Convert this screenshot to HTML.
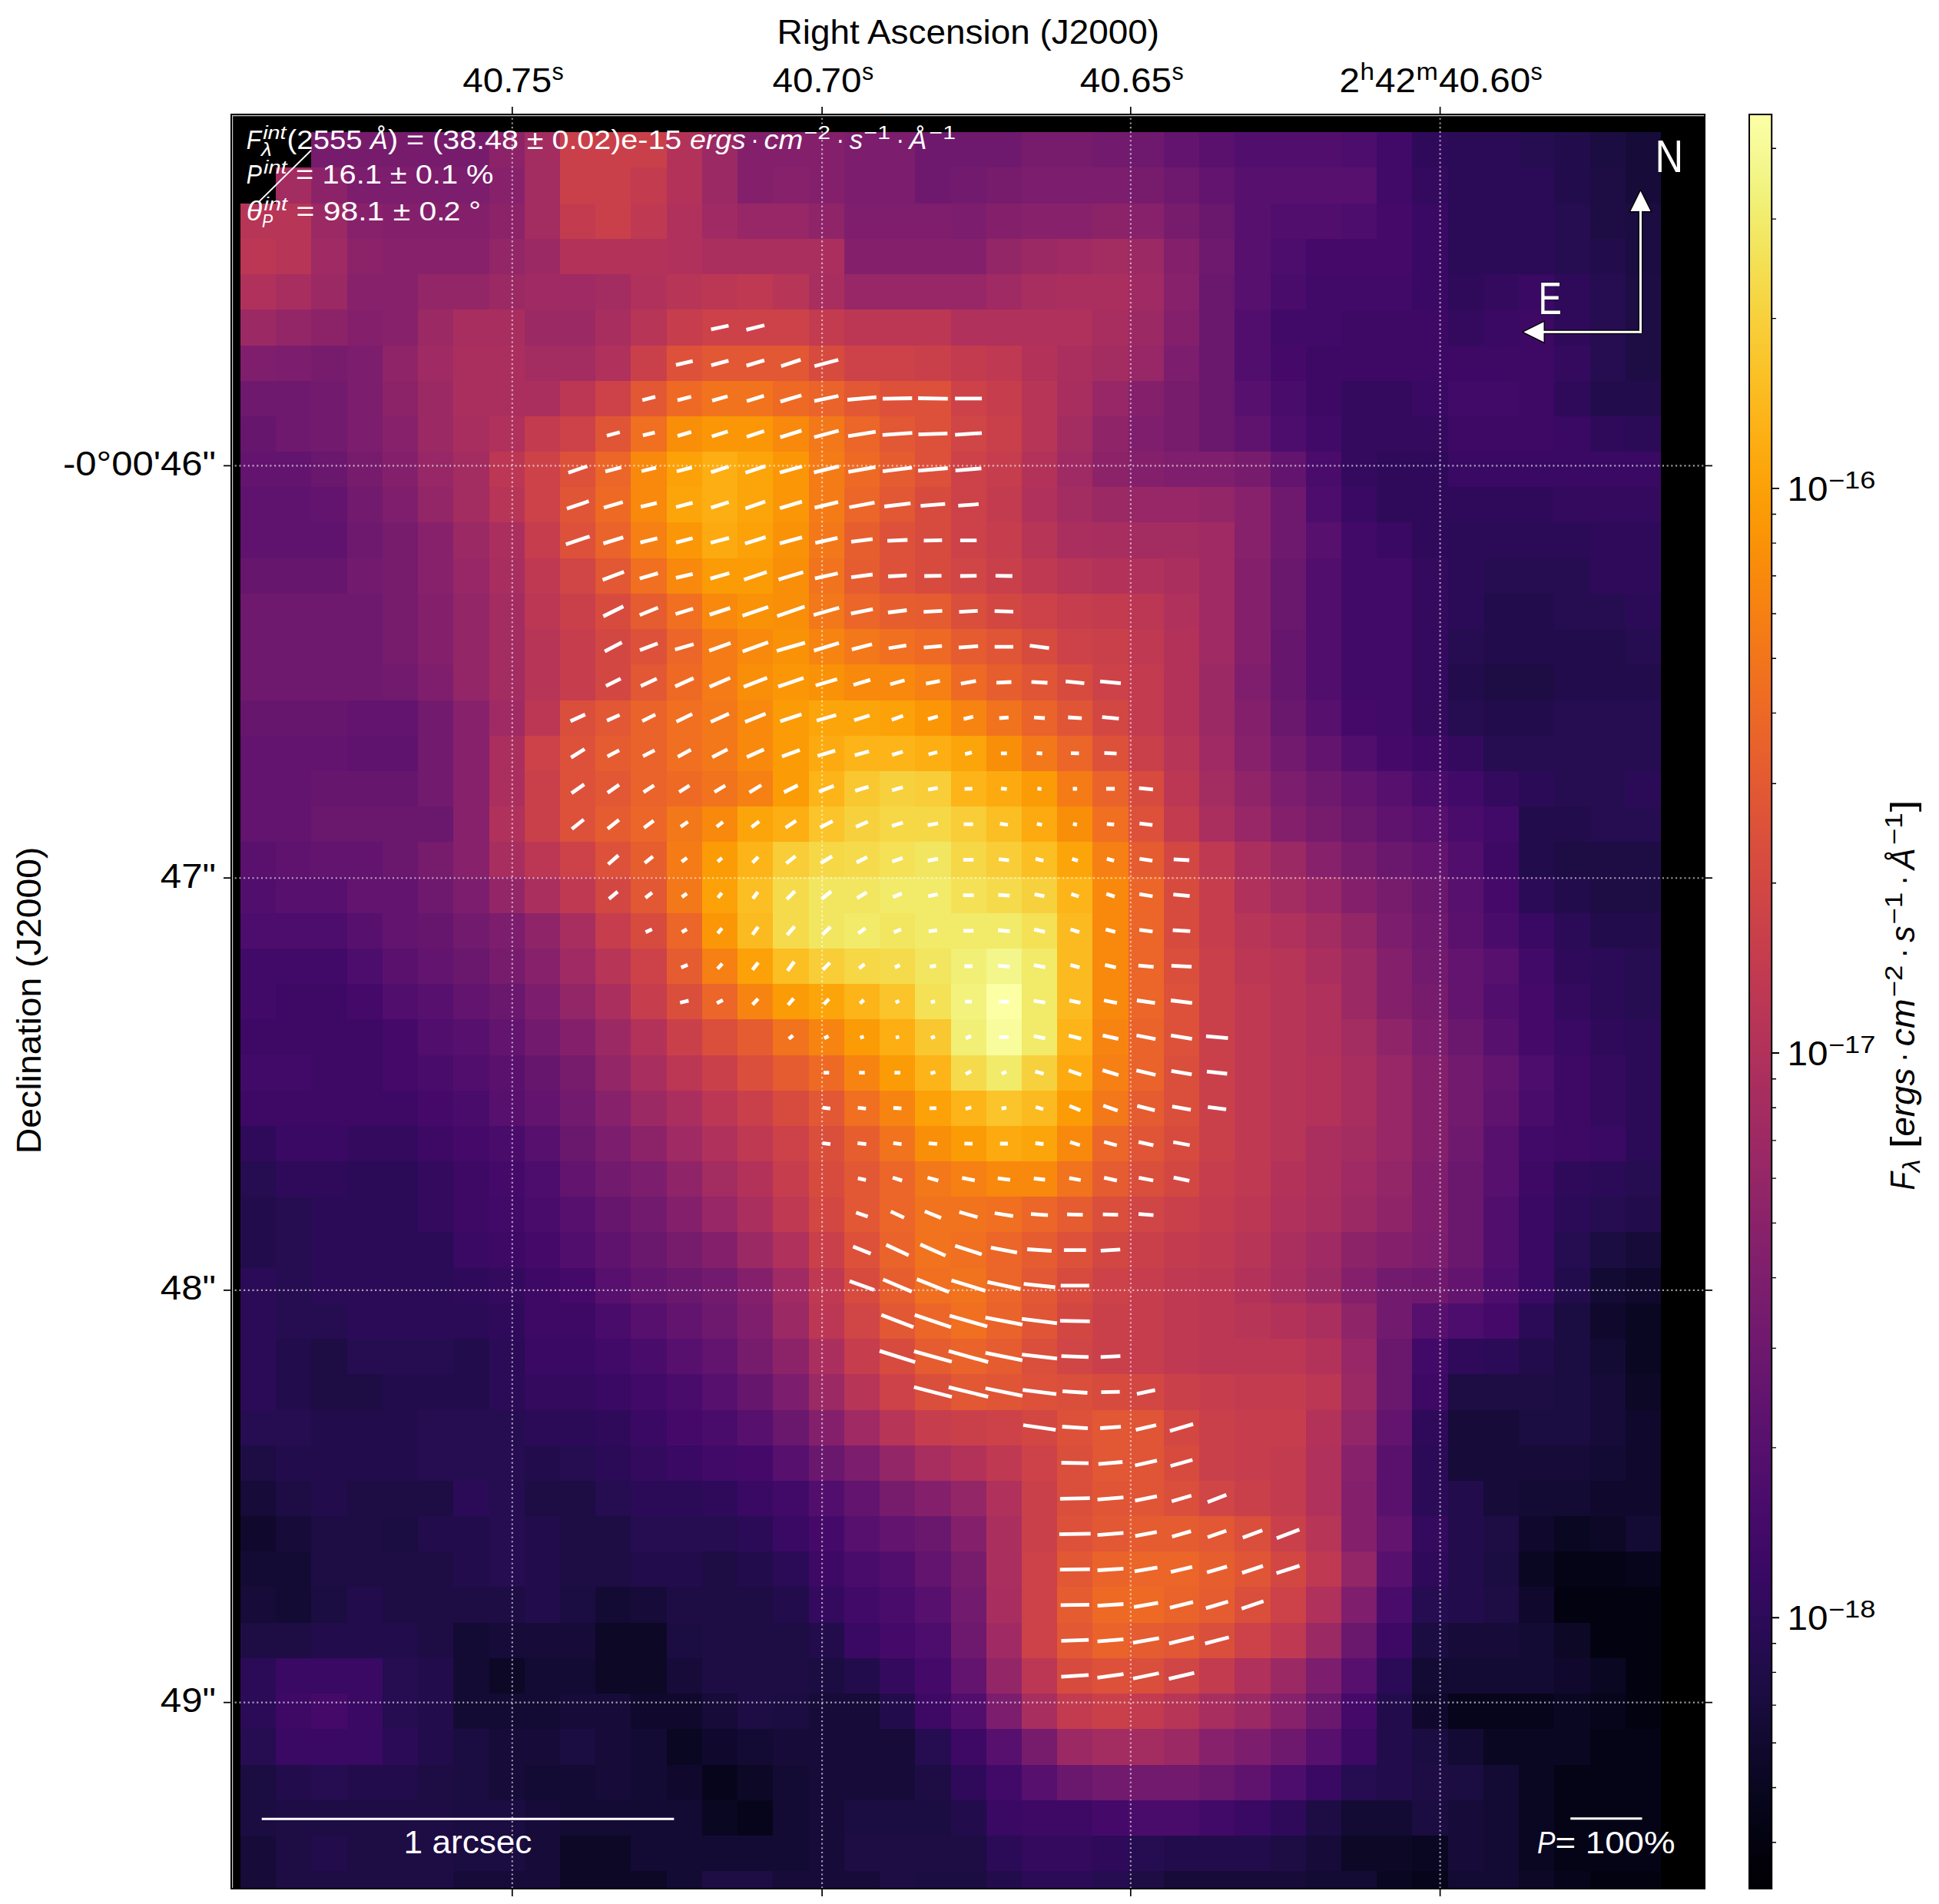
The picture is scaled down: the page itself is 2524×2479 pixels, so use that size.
<!DOCTYPE html><html><head><meta charset="utf-8"><title>Polarization map</title><style>html,body{margin:0;padding:0;background:#fff}svg{display:block}svg text{font-family:"Liberation Sans",sans-serif}</style></head><body><svg width="2524" height="2479" viewBox="0 0 2524 2479" font-family="Liberation Sans, sans-serif">
<defs><linearGradient id="cb" x1="0" y1="0" x2="0" y2="1"><stop offset="0.0000" stop-color="#fcffa4"/><stop offset="0.0156" stop-color="#f8fb9a"/><stop offset="0.0312" stop-color="#f3f68a"/><stop offset="0.0469" stop-color="#f1f179"/><stop offset="0.0625" stop-color="#f2ea69"/><stop offset="0.0781" stop-color="#f3e35a"/><stop offset="0.0938" stop-color="#f5db4c"/><stop offset="0.1094" stop-color="#f7d340"/><stop offset="0.1250" stop-color="#f9cb35"/><stop offset="0.1406" stop-color="#fac42a"/><stop offset="0.1562" stop-color="#fbbc21"/><stop offset="0.1719" stop-color="#fcb418"/><stop offset="0.1875" stop-color="#fcac11"/><stop offset="0.2031" stop-color="#fca50a"/><stop offset="0.2188" stop-color="#fb9d07"/><stop offset="0.2344" stop-color="#fb9606"/><stop offset="0.2500" stop-color="#f98e09"/><stop offset="0.2656" stop-color="#f8870e"/><stop offset="0.2812" stop-color="#f68013"/><stop offset="0.2969" stop-color="#f47918"/><stop offset="0.3125" stop-color="#f1731d"/><stop offset="0.3281" stop-color="#ef6c23"/><stop offset="0.3438" stop-color="#eb6628"/><stop offset="0.3594" stop-color="#e8602d"/><stop offset="0.3750" stop-color="#e45a31"/><stop offset="0.3906" stop-color="#e05536"/><stop offset="0.4062" stop-color="#db503b"/><stop offset="0.4219" stop-color="#d74b3f"/><stop offset="0.4375" stop-color="#d24644"/><stop offset="0.4531" stop-color="#cc4248"/><stop offset="0.4688" stop-color="#c73e4c"/><stop offset="0.4844" stop-color="#c13a50"/><stop offset="0.5000" stop-color="#bc3754"/><stop offset="0.5156" stop-color="#b63458"/><stop offset="0.5312" stop-color="#b0315b"/><stop offset="0.5469" stop-color="#a92e5e"/><stop offset="0.5625" stop-color="#a32c61"/><stop offset="0.5781" stop-color="#9d2964"/><stop offset="0.5938" stop-color="#972766"/><stop offset="0.6094" stop-color="#902568"/><stop offset="0.6250" stop-color="#8a226a"/><stop offset="0.6406" stop-color="#84206b"/><stop offset="0.6562" stop-color="#7d1e6d"/><stop offset="0.6719" stop-color="#771c6d"/><stop offset="0.6875" stop-color="#71196e"/><stop offset="0.7031" stop-color="#6a176e"/><stop offset="0.7188" stop-color="#64156e"/><stop offset="0.7344" stop-color="#5d126e"/><stop offset="0.7500" stop-color="#57106e"/><stop offset="0.7656" stop-color="#510e6c"/><stop offset="0.7812" stop-color="#4a0c6b"/><stop offset="0.7969" stop-color="#440a68"/><stop offset="0.8125" stop-color="#3d0965"/><stop offset="0.8281" stop-color="#360961"/><stop offset="0.8438" stop-color="#2f0a5b"/><stop offset="0.8594" stop-color="#280b53"/><stop offset="0.8750" stop-color="#210c4a"/><stop offset="0.8906" stop-color="#1b0c41"/><stop offset="0.9062" stop-color="#150b37"/><stop offset="0.9219" stop-color="#10092d"/><stop offset="0.9375" stop-color="#0b0724"/><stop offset="0.9531" stop-color="#07051b"/><stop offset="0.9688" stop-color="#040312"/><stop offset="0.9844" stop-color="#02010a"/><stop offset="1.0000" stop-color="#000004"/></linearGradient><clipPath id="axc"><rect x="300" y="148" width="1920" height="2312"/></clipPath></defs>
<rect width="2524" height="2479" fill="#fff"/>
<rect x="300" y="148" width="1920" height="2312" fill="#000"/>
<g shape-rendering="crispEdges" clip-path="url(#axc)"><rect x="405" y="172" width="232" height="46" fill="#771c6d"/><rect x="637" y="172" width="46" height="46" fill="#8c2369"/><rect x="683" y="172" width="46" height="46" fill="#a32c61"/><rect x="729" y="172" width="139" height="46" fill="#ca404a"/><rect x="868" y="172" width="46" height="46" fill="#b3325a"/><rect x="914" y="172" width="46" height="46" fill="#9b2964"/><rect x="960" y="172" width="139" height="46" fill="#84206b"/><rect x="1099" y="172" width="92" height="46" fill="#7c1d6d"/><rect x="1191" y="172" width="139" height="46" fill="#6f196e"/><rect x="1330" y="172" width="92" height="46" fill="#771c6d"/><rect x="1422" y="172" width="47" height="46" fill="#721a6e"/><rect x="1469" y="172" width="46" height="46" fill="#6f196e"/><rect x="1515" y="172" width="46" height="46" fill="#62146e"/><rect x="1561" y="172" width="46" height="46" fill="#5a116e"/><rect x="1607" y="172" width="139" height="46" fill="#520e6d"/><rect x="1746" y="172" width="46" height="46" fill="#4d0d6c"/><rect x="1792" y="172" width="46" height="46" fill="#420a68"/><rect x="1838" y="172" width="47" height="46" fill="#2f0a5b"/><rect x="1885" y="172" width="92" height="46" fill="#2b0b57"/><rect x="1977" y="172" width="46" height="46" fill="#260c51"/><rect x="2023" y="172" width="47" height="46" fill="#230c4c"/><rect x="2070" y="172" width="46" height="46" fill="#1b0c41"/><rect x="2116" y="172" width="46" height="46" fill="#160b39"/><rect x="359" y="218" width="46" height="47" fill="#a32c61"/><rect x="405" y="218" width="47" height="47" fill="#8c2369"/><rect x="452" y="218" width="185" height="47" fill="#7c1d6d"/><rect x="637" y="218" width="46" height="47" fill="#87216b"/><rect x="683" y="218" width="46" height="47" fill="#a32c61"/><rect x="729" y="218" width="92" height="47" fill="#ca404a"/><rect x="821" y="218" width="47" height="47" fill="#c33b4f"/><rect x="868" y="218" width="46" height="47" fill="#b3325a"/><rect x="914" y="218" width="46" height="47" fill="#9b2964"/><rect x="960" y="218" width="46" height="47" fill="#84206b"/><rect x="1006" y="218" width="47" height="47" fill="#87216b"/><rect x="1053" y="218" width="46" height="47" fill="#84206b"/><rect x="1099" y="218" width="92" height="47" fill="#7c1d6d"/><rect x="1191" y="218" width="47" height="47" fill="#6f196e"/><rect x="1238" y="218" width="46" height="47" fill="#721a6e"/><rect x="1284" y="218" width="46" height="47" fill="#771c6d"/><rect x="1330" y="218" width="139" height="47" fill="#7c1d6d"/><rect x="1469" y="218" width="46" height="47" fill="#771c6d"/><rect x="1515" y="218" width="46" height="47" fill="#6f196e"/><rect x="1561" y="218" width="46" height="47" fill="#62146e"/><rect x="1607" y="218" width="185" height="47" fill="#57106e"/><rect x="1792" y="218" width="46" height="47" fill="#420a68"/><rect x="1838" y="218" width="47" height="47" fill="#340a5f"/><rect x="1885" y="218" width="138" height="47" fill="#2b0b57"/><rect x="2023" y="218" width="47" height="47" fill="#230c4c"/><rect x="2070" y="218" width="46" height="47" fill="#1e0c45"/><rect x="2116" y="218" width="46" height="47" fill="#160b39"/><rect x="313" y="265" width="92" height="46" fill="#b73557"/><rect x="405" y="265" width="47" height="46" fill="#9b2964"/><rect x="452" y="265" width="46" height="46" fill="#87216b"/><rect x="498" y="265" width="139" height="46" fill="#84206b"/><rect x="637" y="265" width="46" height="46" fill="#8c2369"/><rect x="683" y="265" width="46" height="46" fill="#a32c61"/><rect x="729" y="265" width="46" height="46" fill="#c33b4f"/><rect x="775" y="265" width="46" height="46" fill="#ca404a"/><rect x="821" y="265" width="47" height="46" fill="#bf3952"/><rect x="868" y="265" width="46" height="46" fill="#b0315b"/><rect x="914" y="265" width="46" height="46" fill="#a02a63"/><rect x="960" y="265" width="93" height="46" fill="#972766"/><rect x="1053" y="265" width="46" height="46" fill="#8f2469"/><rect x="1099" y="265" width="139" height="46" fill="#7f1e6c"/><rect x="1238" y="265" width="46" height="46" fill="#7c1d6d"/><rect x="1284" y="265" width="46" height="46" fill="#84206b"/><rect x="1330" y="265" width="92" height="46" fill="#87216b"/><rect x="1422" y="265" width="47" height="46" fill="#8c2369"/><rect x="1469" y="265" width="46" height="46" fill="#87216b"/><rect x="1515" y="265" width="46" height="46" fill="#771c6d"/><rect x="1561" y="265" width="46" height="46" fill="#6a176e"/><rect x="1607" y="265" width="47" height="46" fill="#57106e"/><rect x="1654" y="265" width="92" height="46" fill="#520e6d"/><rect x="1746" y="265" width="46" height="46" fill="#4d0d6c"/><rect x="1792" y="265" width="46" height="46" fill="#450a69"/><rect x="1838" y="265" width="47" height="46" fill="#390963"/><rect x="1885" y="265" width="138" height="46" fill="#2b0b57"/><rect x="2023" y="265" width="47" height="46" fill="#260c51"/><rect x="2070" y="265" width="46" height="46" fill="#1e0c45"/><rect x="2116" y="265" width="46" height="46" fill="#1b0c41"/><rect x="313" y="311" width="46" height="46" fill="#bc3754"/><rect x="359" y="311" width="46" height="46" fill="#b73557"/><rect x="405" y="311" width="47" height="46" fill="#a02a63"/><rect x="452" y="311" width="46" height="46" fill="#8c2369"/><rect x="498" y="311" width="139" height="46" fill="#87216b"/><rect x="637" y="311" width="46" height="46" fill="#932667"/><rect x="683" y="311" width="46" height="46" fill="#9b2964"/><rect x="729" y="311" width="139" height="46" fill="#b3325a"/><rect x="868" y="311" width="46" height="46" fill="#b0315b"/><rect x="914" y="311" width="185" height="46" fill="#ab2f5e"/><rect x="1099" y="311" width="185" height="46" fill="#84206b"/><rect x="1284" y="311" width="46" height="46" fill="#932667"/><rect x="1330" y="311" width="46" height="46" fill="#9b2964"/><rect x="1376" y="311" width="46" height="46" fill="#a02a63"/><rect x="1422" y="311" width="47" height="46" fill="#a32c61"/><rect x="1469" y="311" width="46" height="46" fill="#9b2964"/><rect x="1515" y="311" width="46" height="46" fill="#84206b"/><rect x="1561" y="311" width="46" height="46" fill="#6f196e"/><rect x="1607" y="311" width="47" height="46" fill="#57106e"/><rect x="1654" y="311" width="46" height="46" fill="#4d0d6c"/><rect x="1700" y="311" width="138" height="46" fill="#450a69"/><rect x="1838" y="311" width="47" height="46" fill="#390963"/><rect x="1885" y="311" width="138" height="46" fill="#2b0b57"/><rect x="2023" y="311" width="47" height="46" fill="#260c51"/><rect x="2070" y="311" width="46" height="46" fill="#230c4c"/><rect x="2116" y="311" width="46" height="46" fill="#1b0c41"/><rect x="313" y="357" width="46" height="46" fill="#b0315b"/><rect x="359" y="357" width="46" height="46" fill="#a82e5f"/><rect x="405" y="357" width="47" height="46" fill="#9b2964"/><rect x="452" y="357" width="92" height="46" fill="#87216b"/><rect x="544" y="357" width="93" height="46" fill="#932667"/><rect x="637" y="357" width="46" height="46" fill="#9b2964"/><rect x="683" y="357" width="92" height="46" fill="#a02a63"/><rect x="775" y="357" width="46" height="46" fill="#a32c61"/><rect x="821" y="357" width="47" height="46" fill="#b0315b"/><rect x="868" y="357" width="46" height="46" fill="#b73557"/><rect x="914" y="357" width="46" height="46" fill="#bc3754"/><rect x="960" y="357" width="46" height="46" fill="#bf3952"/><rect x="1006" y="357" width="47" height="46" fill="#b73557"/><rect x="1053" y="357" width="46" height="46" fill="#a82e5f"/><rect x="1099" y="357" width="185" height="46" fill="#972766"/><rect x="1284" y="357" width="46" height="46" fill="#a02a63"/><rect x="1330" y="357" width="46" height="46" fill="#a82e5f"/><rect x="1376" y="357" width="93" height="46" fill="#ab2f5e"/><rect x="1469" y="357" width="46" height="46" fill="#a02a63"/><rect x="1515" y="357" width="46" height="46" fill="#87216b"/><rect x="1561" y="357" width="46" height="46" fill="#6a176e"/><rect x="1607" y="357" width="47" height="46" fill="#57106e"/><rect x="1654" y="357" width="46" height="46" fill="#4a0c6b"/><rect x="1700" y="357" width="138" height="46" fill="#420a68"/><rect x="1838" y="357" width="47" height="46" fill="#390963"/><rect x="1885" y="357" width="46" height="46" fill="#2f0a5b"/><rect x="1931" y="357" width="46" height="46" fill="#340a5f"/><rect x="1977" y="357" width="46" height="46" fill="#390963"/><rect x="2023" y="357" width="47" height="46" fill="#2f0a5b"/><rect x="2070" y="357" width="46" height="46" fill="#260c51"/><rect x="2116" y="357" width="46" height="46" fill="#1e0c45"/><rect x="313" y="403" width="46" height="47" fill="#9b2964"/><rect x="359" y="403" width="46" height="47" fill="#932667"/><rect x="405" y="403" width="47" height="47" fill="#8c2369"/><rect x="452" y="403" width="46" height="47" fill="#84206b"/><rect x="498" y="403" width="46" height="47" fill="#87216b"/><rect x="544" y="403" width="46" height="47" fill="#9b2964"/><rect x="590" y="403" width="93" height="47" fill="#a82e5f"/><rect x="683" y="403" width="92" height="47" fill="#9b2964"/><rect x="775" y="403" width="46" height="47" fill="#a82e5f"/><rect x="821" y="403" width="47" height="47" fill="#b73557"/><rect x="868" y="403" width="46" height="47" fill="#c63d4d"/><rect x="914" y="403" width="139" height="47" fill="#cc4248"/><rect x="1053" y="403" width="46" height="47" fill="#c33b4f"/><rect x="1099" y="403" width="139" height="47" fill="#bc3754"/><rect x="1238" y="403" width="184" height="47" fill="#b0315b"/><rect x="1422" y="403" width="47" height="47" fill="#a82e5f"/><rect x="1469" y="403" width="46" height="47" fill="#9b2964"/><rect x="1515" y="403" width="46" height="47" fill="#84206b"/><rect x="1561" y="403" width="46" height="47" fill="#6a176e"/><rect x="1607" y="403" width="47" height="47" fill="#520e6d"/><rect x="1654" y="403" width="92" height="47" fill="#420a68"/><rect x="1746" y="403" width="139" height="47" fill="#3d0965"/><rect x="1885" y="403" width="46" height="47" fill="#340a5f"/><rect x="1931" y="403" width="46" height="47" fill="#390963"/><rect x="1977" y="403" width="46" height="47" fill="#3d0965"/><rect x="2023" y="403" width="47" height="47" fill="#2f0a5b"/><rect x="2070" y="403" width="46" height="47" fill="#260c51"/><rect x="2116" y="403" width="46" height="47" fill="#1e0c45"/><rect x="313" y="450" width="46" height="46" fill="#7f1e6c"/><rect x="359" y="450" width="46" height="46" fill="#7c1d6d"/><rect x="405" y="450" width="47" height="46" fill="#771c6d"/><rect x="452" y="450" width="46" height="46" fill="#7c1d6d"/><rect x="498" y="450" width="46" height="46" fill="#8f2469"/><rect x="544" y="450" width="46" height="46" fill="#a02a63"/><rect x="590" y="450" width="93" height="46" fill="#ab2f5e"/><rect x="683" y="450" width="92" height="46" fill="#a32c61"/><rect x="775" y="450" width="46" height="46" fill="#b0315b"/><rect x="821" y="450" width="47" height="46" fill="#ca404a"/><rect x="868" y="450" width="46" height="46" fill="#dd513a"/><rect x="914" y="450" width="139" height="46" fill="#e25734"/><rect x="1053" y="450" width="46" height="46" fill="#d74b3f"/><rect x="1099" y="450" width="92" height="46" fill="#cc4248"/><rect x="1191" y="450" width="47" height="46" fill="#ca404a"/><rect x="1238" y="450" width="46" height="46" fill="#c33b4f"/><rect x="1284" y="450" width="46" height="46" fill="#bf3952"/><rect x="1330" y="450" width="46" height="46" fill="#b3325a"/><rect x="1376" y="450" width="46" height="46" fill="#ab2f5e"/><rect x="1422" y="450" width="47" height="46" fill="#a32c61"/><rect x="1469" y="450" width="46" height="46" fill="#972766"/><rect x="1515" y="450" width="46" height="46" fill="#7c1d6d"/><rect x="1561" y="450" width="46" height="46" fill="#6a176e"/><rect x="1607" y="450" width="47" height="46" fill="#520e6d"/><rect x="1654" y="450" width="46" height="46" fill="#450a69"/><rect x="1700" y="450" width="323" height="46" fill="#3d0965"/><rect x="2023" y="450" width="47" height="46" fill="#340a5f"/><rect x="2070" y="450" width="46" height="46" fill="#260c51"/><rect x="2116" y="450" width="46" height="46" fill="#1e0c45"/><rect x="313" y="496" width="92" height="46" fill="#6f196e"/><rect x="405" y="496" width="47" height="46" fill="#721a6e"/><rect x="452" y="496" width="46" height="46" fill="#7c1d6d"/><rect x="498" y="496" width="46" height="46" fill="#8c2369"/><rect x="544" y="496" width="46" height="46" fill="#9b2964"/><rect x="590" y="496" width="139" height="46" fill="#ab2f5e"/><rect x="729" y="496" width="46" height="46" fill="#bc3754"/><rect x="775" y="496" width="46" height="46" fill="#cc4248"/><rect x="821" y="496" width="47" height="46" fill="#e25734"/><rect x="868" y="496" width="46" height="46" fill="#ee6a24"/><rect x="914" y="496" width="92" height="46" fill="#f1731d"/><rect x="1006" y="496" width="47" height="46" fill="#ee6a24"/><rect x="1053" y="496" width="46" height="46" fill="#ea632a"/><rect x="1099" y="496" width="46" height="46" fill="#e25734"/><rect x="1145" y="496" width="93" height="46" fill="#dd513a"/><rect x="1238" y="496" width="46" height="46" fill="#cc4248"/><rect x="1284" y="496" width="46" height="46" fill="#c63d4d"/><rect x="1330" y="496" width="46" height="46" fill="#b73557"/><rect x="1376" y="496" width="46" height="46" fill="#a82e5f"/><rect x="1422" y="496" width="47" height="46" fill="#972766"/><rect x="1469" y="496" width="46" height="46" fill="#84206b"/><rect x="1515" y="496" width="46" height="46" fill="#771c6d"/><rect x="1561" y="496" width="46" height="46" fill="#6a176e"/><rect x="1607" y="496" width="47" height="46" fill="#57106e"/><rect x="1654" y="496" width="46" height="46" fill="#4a0c6b"/><rect x="1700" y="496" width="46" height="46" fill="#3d0965"/><rect x="1746" y="496" width="92" height="46" fill="#340a5f"/><rect x="1838" y="496" width="47" height="46" fill="#390963"/><rect x="1885" y="496" width="92" height="46" fill="#420a68"/><rect x="1977" y="496" width="46" height="46" fill="#3d0965"/><rect x="2023" y="496" width="47" height="46" fill="#2f0a5b"/><rect x="2070" y="496" width="92" height="46" fill="#230c4c"/><rect x="313" y="542" width="46" height="46" fill="#67166e"/><rect x="359" y="542" width="46" height="46" fill="#6f196e"/><rect x="405" y="542" width="47" height="46" fill="#721a6e"/><rect x="452" y="542" width="46" height="46" fill="#7c1d6d"/><rect x="498" y="542" width="46" height="46" fill="#87216b"/><rect x="544" y="542" width="46" height="46" fill="#9b2964"/><rect x="590" y="542" width="47" height="46" fill="#a82e5f"/><rect x="637" y="542" width="46" height="46" fill="#b0315b"/><rect x="683" y="542" width="46" height="46" fill="#c33b4f"/><rect x="729" y="542" width="46" height="46" fill="#cc4248"/><rect x="775" y="542" width="46" height="46" fill="#e05536"/><rect x="821" y="542" width="47" height="46" fill="#f06f20"/><rect x="868" y="542" width="46" height="46" fill="#f98e09"/><rect x="914" y="542" width="92" height="46" fill="#fb9706"/><rect x="1006" y="542" width="47" height="46" fill="#f8890c"/><rect x="1053" y="542" width="46" height="46" fill="#f37819"/><rect x="1099" y="542" width="46" height="46" fill="#eb6628"/><rect x="1145" y="542" width="46" height="46" fill="#e25734"/><rect x="1191" y="542" width="47" height="46" fill="#dd513a"/><rect x="1238" y="542" width="46" height="46" fill="#d04545"/><rect x="1284" y="542" width="46" height="46" fill="#ca404a"/><rect x="1330" y="542" width="46" height="46" fill="#b73557"/><rect x="1376" y="542" width="46" height="46" fill="#a32c61"/><rect x="1422" y="542" width="47" height="46" fill="#8f2469"/><rect x="1469" y="542" width="46" height="46" fill="#7f1e6c"/><rect x="1515" y="542" width="46" height="46" fill="#771c6d"/><rect x="1561" y="542" width="46" height="46" fill="#6a176e"/><rect x="1607" y="542" width="47" height="46" fill="#5f136e"/><rect x="1654" y="542" width="46" height="46" fill="#4d0d6c"/><rect x="1700" y="542" width="46" height="46" fill="#420a68"/><rect x="1746" y="542" width="139" height="46" fill="#340a5f"/><rect x="1885" y="542" width="138" height="46" fill="#3d0965"/><rect x="2023" y="542" width="47" height="46" fill="#390963"/><rect x="2070" y="542" width="46" height="46" fill="#2f0a5b"/><rect x="2116" y="542" width="46" height="46" fill="#2b0b57"/><rect x="313" y="588" width="92" height="46" fill="#62146e"/><rect x="405" y="588" width="47" height="46" fill="#6a176e"/><rect x="452" y="588" width="46" height="46" fill="#771c6d"/><rect x="498" y="588" width="46" height="46" fill="#84206b"/><rect x="544" y="588" width="46" height="46" fill="#972766"/><rect x="590" y="588" width="47" height="46" fill="#a32c61"/><rect x="637" y="588" width="46" height="46" fill="#bc3754"/><rect x="683" y="588" width="46" height="46" fill="#cc4248"/><rect x="729" y="588" width="46" height="46" fill="#dd513a"/><rect x="775" y="588" width="46" height="46" fill="#eb6628"/><rect x="821" y="588" width="47" height="46" fill="#f8890c"/><rect x="868" y="588" width="46" height="46" fill="#fca108"/><rect x="914" y="588" width="46" height="46" fill="#fcae12"/><rect x="960" y="588" width="46" height="46" fill="#fca50a"/><rect x="1006" y="588" width="47" height="46" fill="#fb9706"/><rect x="1053" y="588" width="46" height="46" fill="#f57b17"/><rect x="1099" y="588" width="46" height="46" fill="#ee6a24"/><rect x="1145" y="588" width="46" height="46" fill="#e55c30"/><rect x="1191" y="588" width="47" height="46" fill="#dd513a"/><rect x="1238" y="588" width="46" height="46" fill="#cc4248"/><rect x="1284" y="588" width="46" height="46" fill="#c63d4d"/><rect x="1330" y="588" width="46" height="46" fill="#b3325a"/><rect x="1376" y="588" width="46" height="46" fill="#a02a63"/><rect x="1422" y="588" width="47" height="46" fill="#8c2369"/><rect x="1469" y="588" width="46" height="46" fill="#84206b"/><rect x="1515" y="588" width="92" height="46" fill="#7f1e6c"/><rect x="1607" y="588" width="47" height="46" fill="#771c6d"/><rect x="1654" y="588" width="46" height="46" fill="#62146e"/><rect x="1700" y="588" width="46" height="46" fill="#4a0c6b"/><rect x="1746" y="588" width="46" height="46" fill="#340a5f"/><rect x="1792" y="588" width="93" height="46" fill="#2f0a5b"/><rect x="1885" y="588" width="277" height="46" fill="#390963"/><rect x="313" y="634" width="92" height="46" fill="#5f136e"/><rect x="405" y="634" width="47" height="46" fill="#62146e"/><rect x="452" y="634" width="46" height="46" fill="#721a6e"/><rect x="498" y="634" width="46" height="46" fill="#7f1e6c"/><rect x="544" y="634" width="46" height="46" fill="#932667"/><rect x="590" y="634" width="47" height="46" fill="#a32c61"/><rect x="637" y="634" width="46" height="46" fill="#b73557"/><rect x="683" y="634" width="46" height="46" fill="#cc4248"/><rect x="729" y="634" width="46" height="46" fill="#e05536"/><rect x="775" y="634" width="46" height="46" fill="#ee6a24"/><rect x="821" y="634" width="47" height="46" fill="#f8890c"/><rect x="868" y="634" width="46" height="46" fill="#fca50a"/><rect x="914" y="634" width="46" height="46" fill="#fcae12"/><rect x="960" y="634" width="46" height="46" fill="#fca50a"/><rect x="1006" y="634" width="47" height="46" fill="#fb9706"/><rect x="1053" y="634" width="46" height="46" fill="#f57b17"/><rect x="1099" y="634" width="46" height="46" fill="#eb6628"/><rect x="1145" y="634" width="46" height="46" fill="#e25734"/><rect x="1191" y="634" width="47" height="46" fill="#d74b3f"/><rect x="1238" y="634" width="46" height="46" fill="#cc4248"/><rect x="1284" y="634" width="46" height="46" fill="#c33b4f"/><rect x="1330" y="634" width="46" height="46" fill="#b0315b"/><rect x="1376" y="634" width="46" height="46" fill="#a32c61"/><rect x="1422" y="634" width="47" height="46" fill="#9b2964"/><rect x="1469" y="634" width="92" height="46" fill="#972766"/><rect x="1561" y="634" width="46" height="46" fill="#932667"/><rect x="1607" y="634" width="47" height="46" fill="#87216b"/><rect x="1654" y="634" width="46" height="46" fill="#6f196e"/><rect x="1700" y="634" width="46" height="46" fill="#4d0d6c"/><rect x="1746" y="634" width="46" height="46" fill="#390963"/><rect x="1792" y="634" width="231" height="46" fill="#2f0a5b"/><rect x="2023" y="634" width="139" height="46" fill="#340a5f"/><rect x="313" y="680" width="139" height="47" fill="#5f136e"/><rect x="452" y="680" width="46" height="47" fill="#6f196e"/><rect x="498" y="680" width="46" height="47" fill="#771c6d"/><rect x="544" y="680" width="46" height="47" fill="#87216b"/><rect x="590" y="680" width="47" height="47" fill="#9b2964"/><rect x="637" y="680" width="46" height="47" fill="#ab2f5e"/><rect x="683" y="680" width="46" height="47" fill="#c63d4d"/><rect x="729" y="680" width="46" height="47" fill="#dd513a"/><rect x="775" y="680" width="46" height="47" fill="#ea632a"/><rect x="821" y="680" width="47" height="47" fill="#f68013"/><rect x="868" y="680" width="46" height="47" fill="#fb9706"/><rect x="914" y="680" width="46" height="47" fill="#fcaa0f"/><rect x="960" y="680" width="46" height="47" fill="#fca108"/><rect x="1006" y="680" width="47" height="47" fill="#fa9207"/><rect x="1053" y="680" width="46" height="47" fill="#f37819"/><rect x="1099" y="680" width="46" height="47" fill="#e75e2e"/><rect x="1145" y="680" width="46" height="47" fill="#dd513a"/><rect x="1191" y="680" width="47" height="47" fill="#d74b3f"/><rect x="1238" y="680" width="46" height="47" fill="#cc4248"/><rect x="1284" y="680" width="46" height="47" fill="#c63d4d"/><rect x="1330" y="680" width="46" height="47" fill="#b73557"/><rect x="1376" y="680" width="46" height="47" fill="#ab2f5e"/><rect x="1422" y="680" width="47" height="47" fill="#a82e5f"/><rect x="1469" y="680" width="92" height="47" fill="#a32c61"/><rect x="1561" y="680" width="46" height="47" fill="#a02a63"/><rect x="1607" y="680" width="47" height="47" fill="#87216b"/><rect x="1654" y="680" width="46" height="47" fill="#6f196e"/><rect x="1700" y="680" width="46" height="47" fill="#57106e"/><rect x="1746" y="680" width="46" height="47" fill="#420a68"/><rect x="1792" y="680" width="46" height="47" fill="#390963"/><rect x="1838" y="680" width="47" height="47" fill="#2f0a5b"/><rect x="1885" y="680" width="185" height="47" fill="#2b0b57"/><rect x="2070" y="680" width="92" height="47" fill="#2f0a5b"/><rect x="313" y="727" width="139" height="46" fill="#67166e"/><rect x="452" y="727" width="46" height="46" fill="#721a6e"/><rect x="498" y="727" width="46" height="46" fill="#771c6d"/><rect x="544" y="727" width="46" height="46" fill="#87216b"/><rect x="590" y="727" width="47" height="46" fill="#972766"/><rect x="637" y="727" width="46" height="46" fill="#a82e5f"/><rect x="683" y="727" width="46" height="46" fill="#bf3952"/><rect x="729" y="727" width="46" height="46" fill="#d04545"/><rect x="775" y="727" width="46" height="46" fill="#e25734"/><rect x="821" y="727" width="47" height="46" fill="#f06f20"/><rect x="868" y="727" width="46" height="46" fill="#f8890c"/><rect x="914" y="727" width="92" height="46" fill="#fb9b06"/><rect x="1006" y="727" width="47" height="46" fill="#f98e09"/><rect x="1053" y="727" width="46" height="46" fill="#f1731d"/><rect x="1099" y="727" width="46" height="46" fill="#e55c30"/><rect x="1145" y="727" width="46" height="46" fill="#dd513a"/><rect x="1191" y="727" width="47" height="46" fill="#d74b3f"/><rect x="1238" y="727" width="46" height="46" fill="#d04545"/><rect x="1284" y="727" width="46" height="46" fill="#ca404a"/><rect x="1330" y="727" width="46" height="46" fill="#bf3952"/><rect x="1376" y="727" width="46" height="46" fill="#b73557"/><rect x="1422" y="727" width="47" height="46" fill="#b3325a"/><rect x="1469" y="727" width="46" height="46" fill="#b0315b"/><rect x="1515" y="727" width="46" height="46" fill="#ab2f5e"/><rect x="1561" y="727" width="46" height="46" fill="#a02a63"/><rect x="1607" y="727" width="47" height="46" fill="#84206b"/><rect x="1654" y="727" width="46" height="46" fill="#6a176e"/><rect x="1700" y="727" width="46" height="46" fill="#520e6d"/><rect x="1746" y="727" width="92" height="46" fill="#420a68"/><rect x="1838" y="727" width="47" height="46" fill="#340a5f"/><rect x="1885" y="727" width="46" height="46" fill="#2b0b57"/><rect x="1931" y="727" width="139" height="46" fill="#260c51"/><rect x="2070" y="727" width="92" height="46" fill="#2f0a5b"/><rect x="313" y="773" width="185" height="46" fill="#6f196e"/><rect x="498" y="773" width="46" height="46" fill="#771c6d"/><rect x="544" y="773" width="46" height="46" fill="#84206b"/><rect x="590" y="773" width="47" height="46" fill="#932667"/><rect x="637" y="773" width="46" height="46" fill="#a32c61"/><rect x="683" y="773" width="46" height="46" fill="#bc3754"/><rect x="729" y="773" width="46" height="46" fill="#ca404a"/><rect x="775" y="773" width="46" height="46" fill="#d74b3f"/><rect x="821" y="773" width="47" height="46" fill="#e55c30"/><rect x="868" y="773" width="46" height="46" fill="#f06f20"/><rect x="914" y="773" width="46" height="46" fill="#f8890c"/><rect x="960" y="773" width="46" height="46" fill="#fa9207"/><rect x="1006" y="773" width="47" height="46" fill="#f98e09"/><rect x="1053" y="773" width="46" height="46" fill="#f37819"/><rect x="1099" y="773" width="46" height="46" fill="#eb6628"/><rect x="1145" y="773" width="46" height="46" fill="#e75e2e"/><rect x="1191" y="773" width="47" height="46" fill="#e55c30"/><rect x="1238" y="773" width="46" height="46" fill="#da4e3c"/><rect x="1284" y="773" width="46" height="46" fill="#d34743"/><rect x="1330" y="773" width="46" height="46" fill="#cc4248"/><rect x="1376" y="773" width="46" height="46" fill="#c63d4d"/><rect x="1422" y="773" width="47" height="46" fill="#c33b4f"/><rect x="1469" y="773" width="46" height="46" fill="#bc3754"/><rect x="1515" y="773" width="46" height="46" fill="#b0315b"/><rect x="1561" y="773" width="46" height="46" fill="#a02a63"/><rect x="1607" y="773" width="47" height="46" fill="#84206b"/><rect x="1654" y="773" width="46" height="46" fill="#6a176e"/><rect x="1700" y="773" width="46" height="46" fill="#520e6d"/><rect x="1746" y="773" width="92" height="46" fill="#420a68"/><rect x="1838" y="773" width="47" height="46" fill="#340a5f"/><rect x="1885" y="773" width="46" height="46" fill="#2b0b57"/><rect x="1931" y="773" width="92" height="46" fill="#230c4c"/><rect x="2023" y="773" width="93" height="46" fill="#260c51"/><rect x="2116" y="773" width="46" height="46" fill="#2b0b57"/><rect x="313" y="819" width="185" height="46" fill="#6f196e"/><rect x="498" y="819" width="46" height="46" fill="#771c6d"/><rect x="544" y="819" width="46" height="46" fill="#84206b"/><rect x="590" y="819" width="47" height="46" fill="#932667"/><rect x="637" y="819" width="46" height="46" fill="#a32c61"/><rect x="683" y="819" width="46" height="46" fill="#b73557"/><rect x="729" y="819" width="46" height="46" fill="#c63d4d"/><rect x="775" y="819" width="46" height="46" fill="#d34743"/><rect x="821" y="819" width="47" height="46" fill="#dd513a"/><rect x="868" y="819" width="46" height="46" fill="#eb6628"/><rect x="914" y="819" width="46" height="46" fill="#f57b17"/><rect x="960" y="819" width="46" height="46" fill="#f8890c"/><rect x="1006" y="819" width="47" height="46" fill="#fa9207"/><rect x="1053" y="819" width="46" height="46" fill="#f78410"/><rect x="1099" y="819" width="46" height="46" fill="#f37819"/><rect x="1145" y="819" width="46" height="46" fill="#f06f20"/><rect x="1191" y="819" width="47" height="46" fill="#ee6a24"/><rect x="1238" y="819" width="46" height="46" fill="#e55c30"/><rect x="1284" y="819" width="46" height="46" fill="#e05536"/><rect x="1330" y="819" width="46" height="46" fill="#d74b3f"/><rect x="1376" y="819" width="46" height="46" fill="#cc4248"/><rect x="1422" y="819" width="47" height="46" fill="#ca404a"/><rect x="1469" y="819" width="46" height="46" fill="#bf3952"/><rect x="1515" y="819" width="46" height="46" fill="#b3325a"/><rect x="1561" y="819" width="46" height="46" fill="#a02a63"/><rect x="1607" y="819" width="47" height="46" fill="#84206b"/><rect x="1654" y="819" width="46" height="46" fill="#67166e"/><rect x="1700" y="819" width="46" height="46" fill="#520e6d"/><rect x="1746" y="819" width="92" height="46" fill="#420a68"/><rect x="1838" y="819" width="47" height="46" fill="#340a5f"/><rect x="1885" y="819" width="46" height="46" fill="#260c51"/><rect x="1931" y="819" width="185" height="46" fill="#230c4c"/><rect x="2116" y="819" width="46" height="46" fill="#260c51"/><rect x="313" y="865" width="185" height="47" fill="#6f196e"/><rect x="498" y="865" width="46" height="47" fill="#721a6e"/><rect x="544" y="865" width="46" height="47" fill="#7f1e6c"/><rect x="590" y="865" width="47" height="47" fill="#932667"/><rect x="637" y="865" width="46" height="47" fill="#a32c61"/><rect x="683" y="865" width="46" height="47" fill="#b73557"/><rect x="729" y="865" width="46" height="47" fill="#c63d4d"/><rect x="775" y="865" width="46" height="47" fill="#d34743"/><rect x="821" y="865" width="47" height="47" fill="#e25734"/><rect x="868" y="865" width="46" height="47" fill="#ee6a24"/><rect x="914" y="865" width="46" height="47" fill="#f57b17"/><rect x="960" y="865" width="46" height="47" fill="#f98e09"/><rect x="1006" y="865" width="47" height="47" fill="#fb9706"/><rect x="1053" y="865" width="46" height="47" fill="#fa9207"/><rect x="1099" y="865" width="92" height="47" fill="#f8890c"/><rect x="1191" y="865" width="47" height="47" fill="#f68013"/><rect x="1238" y="865" width="46" height="47" fill="#ee6a24"/><rect x="1284" y="865" width="46" height="47" fill="#e75e2e"/><rect x="1330" y="865" width="46" height="47" fill="#e05536"/><rect x="1376" y="865" width="46" height="47" fill="#d74b3f"/><rect x="1422" y="865" width="47" height="47" fill="#cc4248"/><rect x="1469" y="865" width="46" height="47" fill="#c33b4f"/><rect x="1515" y="865" width="46" height="47" fill="#b3325a"/><rect x="1561" y="865" width="46" height="47" fill="#9b2964"/><rect x="1607" y="865" width="47" height="47" fill="#7f1e6c"/><rect x="1654" y="865" width="46" height="47" fill="#67166e"/><rect x="1700" y="865" width="46" height="47" fill="#520e6d"/><rect x="1746" y="865" width="92" height="47" fill="#420a68"/><rect x="1838" y="865" width="47" height="47" fill="#340a5f"/><rect x="1885" y="865" width="46" height="47" fill="#230c4c"/><rect x="1931" y="865" width="92" height="47" fill="#1e0c45"/><rect x="2023" y="865" width="139" height="47" fill="#230c4c"/><rect x="313" y="912" width="139" height="46" fill="#67166e"/><rect x="452" y="912" width="92" height="46" fill="#62146e"/><rect x="544" y="912" width="46" height="46" fill="#721a6e"/><rect x="590" y="912" width="47" height="46" fill="#87216b"/><rect x="637" y="912" width="46" height="46" fill="#a02a63"/><rect x="683" y="912" width="46" height="46" fill="#bc3754"/><rect x="729" y="912" width="46" height="46" fill="#da4e3c"/><rect x="775" y="912" width="46" height="46" fill="#e25734"/><rect x="821" y="912" width="47" height="46" fill="#ea632a"/><rect x="868" y="912" width="46" height="46" fill="#f06f20"/><rect x="914" y="912" width="46" height="46" fill="#f37819"/><rect x="960" y="912" width="46" height="46" fill="#f8890c"/><rect x="1006" y="912" width="47" height="46" fill="#fb9b06"/><rect x="1053" y="912" width="92" height="46" fill="#fca50a"/><rect x="1145" y="912" width="46" height="46" fill="#fca108"/><rect x="1191" y="912" width="47" height="46" fill="#fb9706"/><rect x="1238" y="912" width="46" height="46" fill="#f78410"/><rect x="1284" y="912" width="46" height="46" fill="#f1731d"/><rect x="1330" y="912" width="46" height="46" fill="#ea632a"/><rect x="1376" y="912" width="46" height="46" fill="#e05536"/><rect x="1422" y="912" width="47" height="46" fill="#d34743"/><rect x="1469" y="912" width="46" height="46" fill="#c33b4f"/><rect x="1515" y="912" width="46" height="46" fill="#b3325a"/><rect x="1561" y="912" width="46" height="46" fill="#9b2964"/><rect x="1607" y="912" width="47" height="46" fill="#84206b"/><rect x="1654" y="912" width="46" height="46" fill="#6a176e"/><rect x="1700" y="912" width="46" height="46" fill="#57106e"/><rect x="1746" y="912" width="46" height="46" fill="#450a69"/><rect x="1792" y="912" width="46" height="46" fill="#420a68"/><rect x="1838" y="912" width="47" height="46" fill="#340a5f"/><rect x="1885" y="912" width="46" height="46" fill="#260c51"/><rect x="1931" y="912" width="92" height="46" fill="#230c4c"/><rect x="2023" y="912" width="139" height="46" fill="#260c51"/><rect x="313" y="958" width="139" height="46" fill="#62146e"/><rect x="452" y="958" width="92" height="46" fill="#5f136e"/><rect x="544" y="958" width="46" height="46" fill="#721a6e"/><rect x="590" y="958" width="47" height="46" fill="#87216b"/><rect x="637" y="958" width="46" height="46" fill="#ab2f5e"/><rect x="683" y="958" width="46" height="46" fill="#cc4248"/><rect x="729" y="958" width="46" height="46" fill="#dd513a"/><rect x="775" y="958" width="46" height="46" fill="#e55c30"/><rect x="821" y="958" width="47" height="46" fill="#ea632a"/><rect x="868" y="958" width="46" height="46" fill="#f06f20"/><rect x="914" y="958" width="46" height="46" fill="#f37819"/><rect x="960" y="958" width="46" height="46" fill="#f8890c"/><rect x="1006" y="958" width="47" height="46" fill="#fb9b06"/><rect x="1053" y="958" width="46" height="46" fill="#fcaa0f"/><rect x="1099" y="958" width="92" height="46" fill="#fcb418"/><rect x="1191" y="958" width="47" height="46" fill="#fcae12"/><rect x="1238" y="958" width="46" height="46" fill="#fca50a"/><rect x="1284" y="958" width="46" height="46" fill="#f98e09"/><rect x="1330" y="958" width="46" height="46" fill="#f37819"/><rect x="1376" y="958" width="46" height="46" fill="#eb6628"/><rect x="1422" y="958" width="47" height="46" fill="#dd513a"/><rect x="1469" y="958" width="46" height="46" fill="#ca404a"/><rect x="1515" y="958" width="46" height="46" fill="#b73557"/><rect x="1561" y="958" width="46" height="46" fill="#a02a63"/><rect x="1607" y="958" width="47" height="46" fill="#87216b"/><rect x="1654" y="958" width="46" height="46" fill="#721a6e"/><rect x="1700" y="958" width="46" height="46" fill="#62146e"/><rect x="1746" y="958" width="46" height="46" fill="#520e6d"/><rect x="1792" y="958" width="46" height="46" fill="#450a69"/><rect x="1838" y="958" width="47" height="46" fill="#3d0965"/><rect x="1885" y="958" width="46" height="46" fill="#340a5f"/><rect x="1931" y="958" width="231" height="46" fill="#260c51"/><rect x="313" y="1004" width="92" height="46" fill="#62146e"/><rect x="405" y="1004" width="139" height="46" fill="#67166e"/><rect x="544" y="1004" width="46" height="46" fill="#721a6e"/><rect x="590" y="1004" width="47" height="46" fill="#87216b"/><rect x="637" y="1004" width="46" height="46" fill="#ab2f5e"/><rect x="683" y="1004" width="46" height="46" fill="#ca404a"/><rect x="729" y="1004" width="46" height="46" fill="#dd513a"/><rect x="775" y="1004" width="46" height="46" fill="#e25734"/><rect x="821" y="1004" width="47" height="46" fill="#ea632a"/><rect x="868" y="1004" width="46" height="46" fill="#ee6a24"/><rect x="914" y="1004" width="46" height="46" fill="#f1731d"/><rect x="960" y="1004" width="46" height="46" fill="#f68013"/><rect x="1006" y="1004" width="47" height="46" fill="#fb9b06"/><rect x="1053" y="1004" width="46" height="46" fill="#fcb418"/><rect x="1099" y="1004" width="46" height="46" fill="#f9c72f"/><rect x="1145" y="1004" width="46" height="46" fill="#f7d13d"/><rect x="1191" y="1004" width="47" height="46" fill="#f8cd37"/><rect x="1238" y="1004" width="46" height="46" fill="#fcb418"/><rect x="1284" y="1004" width="46" height="46" fill="#fcaa0f"/><rect x="1330" y="1004" width="46" height="46" fill="#fb9b06"/><rect x="1376" y="1004" width="46" height="46" fill="#f57b17"/><rect x="1422" y="1004" width="47" height="46" fill="#ea632a"/><rect x="1469" y="1004" width="46" height="46" fill="#d74b3f"/><rect x="1515" y="1004" width="46" height="46" fill="#bc3754"/><rect x="1561" y="1004" width="46" height="46" fill="#a32c61"/><rect x="1607" y="1004" width="47" height="46" fill="#8f2469"/><rect x="1654" y="1004" width="46" height="46" fill="#7c1d6d"/><rect x="1700" y="1004" width="46" height="46" fill="#6f196e"/><rect x="1746" y="1004" width="46" height="46" fill="#62146e"/><rect x="1792" y="1004" width="46" height="46" fill="#57106e"/><rect x="1838" y="1004" width="47" height="46" fill="#4a0c6b"/><rect x="1885" y="1004" width="46" height="46" fill="#420a68"/><rect x="1931" y="1004" width="46" height="46" fill="#340a5f"/><rect x="1977" y="1004" width="46" height="46" fill="#2b0b57"/><rect x="2023" y="1004" width="93" height="46" fill="#260c51"/><rect x="2116" y="1004" width="46" height="46" fill="#2b0b57"/><rect x="313" y="1050" width="92" height="46" fill="#62146e"/><rect x="405" y="1050" width="185" height="46" fill="#6a176e"/><rect x="590" y="1050" width="47" height="46" fill="#87216b"/><rect x="637" y="1050" width="46" height="46" fill="#b0315b"/><rect x="683" y="1050" width="46" height="46" fill="#ca404a"/><rect x="729" y="1050" width="46" height="46" fill="#dd513a"/><rect x="775" y="1050" width="46" height="46" fill="#e55c30"/><rect x="821" y="1050" width="47" height="46" fill="#eb6628"/><rect x="868" y="1050" width="46" height="46" fill="#f37819"/><rect x="914" y="1050" width="46" height="46" fill="#f8890c"/><rect x="960" y="1050" width="46" height="46" fill="#fca50a"/><rect x="1006" y="1050" width="47" height="46" fill="#fcae12"/><rect x="1053" y="1050" width="46" height="46" fill="#fac42a"/><rect x="1099" y="1050" width="46" height="46" fill="#f7d13d"/><rect x="1145" y="1050" width="93" height="46" fill="#f6d746"/><rect x="1238" y="1050" width="46" height="46" fill="#f8cd37"/><rect x="1284" y="1050" width="46" height="46" fill="#fbbe23"/><rect x="1330" y="1050" width="46" height="46" fill="#fcaa0f"/><rect x="1376" y="1050" width="46" height="46" fill="#f98e09"/><rect x="1422" y="1050" width="47" height="46" fill="#f06f20"/><rect x="1469" y="1050" width="46" height="46" fill="#dd513a"/><rect x="1515" y="1050" width="46" height="46" fill="#c33b4f"/><rect x="1561" y="1050" width="46" height="46" fill="#ab2f5e"/><rect x="1607" y="1050" width="47" height="46" fill="#972766"/><rect x="1654" y="1050" width="46" height="46" fill="#84206b"/><rect x="1700" y="1050" width="46" height="46" fill="#771c6d"/><rect x="1746" y="1050" width="46" height="46" fill="#6a176e"/><rect x="1792" y="1050" width="46" height="46" fill="#5f136e"/><rect x="1838" y="1050" width="47" height="46" fill="#57106e"/><rect x="1885" y="1050" width="46" height="46" fill="#4a0c6b"/><rect x="1931" y="1050" width="46" height="46" fill="#420a68"/><rect x="1977" y="1050" width="93" height="46" fill="#230c4c"/><rect x="2070" y="1050" width="92" height="46" fill="#260c51"/><rect x="313" y="1096" width="46" height="46" fill="#5a116e"/><rect x="359" y="1096" width="46" height="46" fill="#5f136e"/><rect x="405" y="1096" width="93" height="46" fill="#62146e"/><rect x="498" y="1096" width="46" height="46" fill="#6a176e"/><rect x="544" y="1096" width="46" height="46" fill="#771c6d"/><rect x="590" y="1096" width="47" height="46" fill="#87216b"/><rect x="637" y="1096" width="46" height="46" fill="#a82e5f"/><rect x="683" y="1096" width="46" height="46" fill="#bc3754"/><rect x="729" y="1096" width="46" height="46" fill="#cc4248"/><rect x="775" y="1096" width="46" height="46" fill="#dd513a"/><rect x="821" y="1096" width="47" height="46" fill="#e75e2e"/><rect x="868" y="1096" width="46" height="46" fill="#f57b17"/><rect x="914" y="1096" width="46" height="46" fill="#fb9b06"/><rect x="960" y="1096" width="46" height="46" fill="#fcb418"/><rect x="1006" y="1096" width="47" height="46" fill="#f8cd37"/><rect x="1053" y="1096" width="46" height="46" fill="#f6d746"/><rect x="1099" y="1096" width="46" height="46" fill="#f5db4c"/><rect x="1145" y="1096" width="46" height="46" fill="#f4e156"/><rect x="1191" y="1096" width="47" height="46" fill="#f2e661"/><rect x="1238" y="1096" width="46" height="46" fill="#f6d746"/><rect x="1284" y="1096" width="46" height="46" fill="#f8cd37"/><rect x="1330" y="1096" width="46" height="46" fill="#fbbe23"/><rect x="1376" y="1096" width="46" height="46" fill="#fca50a"/><rect x="1422" y="1096" width="47" height="46" fill="#f68013"/><rect x="1469" y="1096" width="46" height="46" fill="#e55c30"/><rect x="1515" y="1096" width="46" height="46" fill="#d34743"/><rect x="1561" y="1096" width="46" height="46" fill="#bf3952"/><rect x="1607" y="1096" width="47" height="46" fill="#ab2f5e"/><rect x="1654" y="1096" width="46" height="46" fill="#9b2964"/><rect x="1700" y="1096" width="46" height="46" fill="#87216b"/><rect x="1746" y="1096" width="46" height="46" fill="#771c6d"/><rect x="1792" y="1096" width="46" height="46" fill="#6a176e"/><rect x="1838" y="1096" width="47" height="46" fill="#62146e"/><rect x="1885" y="1096" width="46" height="46" fill="#520e6d"/><rect x="1931" y="1096" width="46" height="46" fill="#3d0965"/><rect x="1977" y="1096" width="46" height="46" fill="#230c4c"/><rect x="2023" y="1096" width="139" height="46" fill="#1e0c45"/><rect x="313" y="1142" width="46" height="47" fill="#520e6d"/><rect x="359" y="1142" width="93" height="47" fill="#57106e"/><rect x="452" y="1142" width="92" height="47" fill="#62146e"/><rect x="544" y="1142" width="46" height="47" fill="#6f196e"/><rect x="590" y="1142" width="47" height="47" fill="#7c1d6d"/><rect x="637" y="1142" width="46" height="47" fill="#932667"/><rect x="683" y="1142" width="46" height="47" fill="#ab2f5e"/><rect x="729" y="1142" width="46" height="47" fill="#bf3952"/><rect x="775" y="1142" width="46" height="47" fill="#d34743"/><rect x="821" y="1142" width="47" height="47" fill="#e25734"/><rect x="868" y="1142" width="46" height="47" fill="#f37819"/><rect x="914" y="1142" width="46" height="47" fill="#fca108"/><rect x="960" y="1142" width="46" height="47" fill="#fbbe23"/><rect x="1006" y="1142" width="47" height="47" fill="#f5db4c"/><rect x="1053" y="1142" width="92" height="47" fill="#f2e661"/><rect x="1145" y="1142" width="93" height="47" fill="#f2ea69"/><rect x="1238" y="1142" width="46" height="47" fill="#f4e156"/><rect x="1284" y="1142" width="46" height="47" fill="#f5db4c"/><rect x="1330" y="1142" width="46" height="47" fill="#f7d13d"/><rect x="1376" y="1142" width="46" height="47" fill="#fcb418"/><rect x="1422" y="1142" width="47" height="47" fill="#f8890c"/><rect x="1469" y="1142" width="46" height="47" fill="#eb6628"/><rect x="1515" y="1142" width="46" height="47" fill="#d74b3f"/><rect x="1561" y="1142" width="46" height="47" fill="#c63d4d"/><rect x="1607" y="1142" width="47" height="47" fill="#b0315b"/><rect x="1654" y="1142" width="46" height="47" fill="#a32c61"/><rect x="1700" y="1142" width="46" height="47" fill="#972766"/><rect x="1746" y="1142" width="46" height="47" fill="#84206b"/><rect x="1792" y="1142" width="46" height="47" fill="#771c6d"/><rect x="1838" y="1142" width="47" height="47" fill="#6a176e"/><rect x="1885" y="1142" width="46" height="47" fill="#57106e"/><rect x="1931" y="1142" width="46" height="47" fill="#450a69"/><rect x="1977" y="1142" width="46" height="47" fill="#2b0b57"/><rect x="2023" y="1142" width="47" height="47" fill="#230c4c"/><rect x="2070" y="1142" width="92" height="47" fill="#1e0c45"/><rect x="313" y="1189" width="139" height="46" fill="#4d0d6c"/><rect x="452" y="1189" width="46" height="46" fill="#57106e"/><rect x="498" y="1189" width="46" height="46" fill="#62146e"/><rect x="544" y="1189" width="46" height="46" fill="#67166e"/><rect x="590" y="1189" width="47" height="46" fill="#721a6e"/><rect x="637" y="1189" width="46" height="46" fill="#7c1d6d"/><rect x="683" y="1189" width="46" height="46" fill="#8f2469"/><rect x="729" y="1189" width="46" height="46" fill="#a82e5f"/><rect x="775" y="1189" width="46" height="46" fill="#c63d4d"/><rect x="821" y="1189" width="47" height="46" fill="#d74b3f"/><rect x="868" y="1189" width="46" height="46" fill="#eb6628"/><rect x="914" y="1189" width="46" height="46" fill="#fb9706"/><rect x="960" y="1189" width="46" height="46" fill="#fbba1f"/><rect x="1006" y="1189" width="47" height="46" fill="#f5db4c"/><rect x="1053" y="1189" width="46" height="46" fill="#f2e661"/><rect x="1099" y="1189" width="46" height="46" fill="#f2ea69"/><rect x="1145" y="1189" width="46" height="46" fill="#f2e661"/><rect x="1191" y="1189" width="139" height="46" fill="#f2ea69"/><rect x="1330" y="1189" width="46" height="46" fill="#f4e156"/><rect x="1376" y="1189" width="46" height="46" fill="#fbba1f"/><rect x="1422" y="1189" width="47" height="46" fill="#f8890c"/><rect x="1469" y="1189" width="46" height="46" fill="#eb6628"/><rect x="1515" y="1189" width="46" height="46" fill="#d74b3f"/><rect x="1561" y="1189" width="46" height="46" fill="#c63d4d"/><rect x="1607" y="1189" width="47" height="46" fill="#b73557"/><rect x="1654" y="1189" width="46" height="46" fill="#b0315b"/><rect x="1700" y="1189" width="46" height="46" fill="#a32c61"/><rect x="1746" y="1189" width="46" height="46" fill="#932667"/><rect x="1792" y="1189" width="46" height="46" fill="#7c1d6d"/><rect x="1838" y="1189" width="47" height="46" fill="#6f196e"/><rect x="1885" y="1189" width="46" height="46" fill="#5a116e"/><rect x="1931" y="1189" width="46" height="46" fill="#4a0c6b"/><rect x="1977" y="1189" width="46" height="46" fill="#390963"/><rect x="2023" y="1189" width="47" height="46" fill="#2b0b57"/><rect x="2070" y="1189" width="92" height="46" fill="#230c4c"/><rect x="313" y="1235" width="139" height="46" fill="#420a68"/><rect x="452" y="1235" width="46" height="46" fill="#4d0d6c"/><rect x="498" y="1235" width="46" height="46" fill="#5a116e"/><rect x="544" y="1235" width="46" height="46" fill="#62146e"/><rect x="590" y="1235" width="47" height="46" fill="#6a176e"/><rect x="637" y="1235" width="46" height="46" fill="#771c6d"/><rect x="683" y="1235" width="46" height="46" fill="#87216b"/><rect x="729" y="1235" width="46" height="46" fill="#a02a63"/><rect x="775" y="1235" width="46" height="46" fill="#b73557"/><rect x="821" y="1235" width="47" height="46" fill="#cc4248"/><rect x="868" y="1235" width="46" height="46" fill="#e55c30"/><rect x="914" y="1235" width="46" height="46" fill="#f68013"/><rect x="960" y="1235" width="46" height="46" fill="#fca108"/><rect x="1006" y="1235" width="47" height="46" fill="#fbbe23"/><rect x="1053" y="1235" width="46" height="46" fill="#f8cd37"/><rect x="1099" y="1235" width="46" height="46" fill="#f6d746"/><rect x="1145" y="1235" width="46" height="46" fill="#f5db4c"/><rect x="1191" y="1235" width="47" height="46" fill="#f2e661"/><rect x="1238" y="1235" width="46" height="46" fill="#f1ef75"/><rect x="1284" y="1235" width="46" height="46" fill="#f3f68a"/><rect x="1330" y="1235" width="46" height="46" fill="#f2ea69"/><rect x="1376" y="1235" width="46" height="46" fill="#fbba1f"/><rect x="1422" y="1235" width="47" height="46" fill="#f8890c"/><rect x="1469" y="1235" width="46" height="46" fill="#eb6628"/><rect x="1515" y="1235" width="46" height="46" fill="#da4e3c"/><rect x="1561" y="1235" width="46" height="46" fill="#ca404a"/><rect x="1607" y="1235" width="47" height="46" fill="#bc3754"/><rect x="1654" y="1235" width="46" height="46" fill="#b73557"/><rect x="1700" y="1235" width="46" height="46" fill="#ab2f5e"/><rect x="1746" y="1235" width="46" height="46" fill="#9b2964"/><rect x="1792" y="1235" width="46" height="46" fill="#84206b"/><rect x="1838" y="1235" width="47" height="46" fill="#721a6e"/><rect x="1885" y="1235" width="46" height="46" fill="#62146e"/><rect x="1931" y="1235" width="46" height="46" fill="#57106e"/><rect x="1977" y="1235" width="46" height="46" fill="#420a68"/><rect x="2023" y="1235" width="47" height="46" fill="#2f0a5b"/><rect x="2070" y="1235" width="46" height="46" fill="#2b0b57"/><rect x="2116" y="1235" width="46" height="46" fill="#260c51"/><rect x="313" y="1281" width="46" height="46" fill="#420a68"/><rect x="359" y="1281" width="93" height="46" fill="#3d0965"/><rect x="452" y="1281" width="46" height="46" fill="#450a69"/><rect x="498" y="1281" width="46" height="46" fill="#520e6d"/><rect x="544" y="1281" width="46" height="46" fill="#57106e"/><rect x="590" y="1281" width="47" height="46" fill="#62146e"/><rect x="637" y="1281" width="46" height="46" fill="#6a176e"/><rect x="683" y="1281" width="46" height="46" fill="#7c1d6d"/><rect x="729" y="1281" width="46" height="46" fill="#932667"/><rect x="775" y="1281" width="46" height="46" fill="#ab2f5e"/><rect x="821" y="1281" width="47" height="46" fill="#c63d4d"/><rect x="868" y="1281" width="46" height="46" fill="#da4e3c"/><rect x="914" y="1281" width="46" height="46" fill="#eb6628"/><rect x="960" y="1281" width="46" height="46" fill="#f78410"/><rect x="1006" y="1281" width="47" height="46" fill="#fb9b06"/><rect x="1053" y="1281" width="46" height="46" fill="#fca50a"/><rect x="1099" y="1281" width="46" height="46" fill="#fcb418"/><rect x="1145" y="1281" width="46" height="46" fill="#fac42a"/><rect x="1191" y="1281" width="47" height="46" fill="#f4e156"/><rect x="1238" y="1281" width="46" height="46" fill="#f2f27d"/><rect x="1284" y="1281" width="46" height="46" fill="#fcffa4"/><rect x="1330" y="1281" width="46" height="46" fill="#f2ea69"/><rect x="1376" y="1281" width="46" height="46" fill="#fbba1f"/><rect x="1422" y="1281" width="47" height="46" fill="#f8890c"/><rect x="1469" y="1281" width="46" height="46" fill="#eb6628"/><rect x="1515" y="1281" width="46" height="46" fill="#dd513a"/><rect x="1561" y="1281" width="46" height="46" fill="#ca404a"/><rect x="1607" y="1281" width="47" height="46" fill="#bf3952"/><rect x="1654" y="1281" width="46" height="46" fill="#b73557"/><rect x="1700" y="1281" width="46" height="46" fill="#b0315b"/><rect x="1746" y="1281" width="46" height="46" fill="#9b2964"/><rect x="1792" y="1281" width="46" height="46" fill="#84206b"/><rect x="1838" y="1281" width="47" height="46" fill="#771c6d"/><rect x="1885" y="1281" width="46" height="46" fill="#62146e"/><rect x="1931" y="1281" width="46" height="46" fill="#520e6d"/><rect x="1977" y="1281" width="46" height="46" fill="#450a69"/><rect x="2023" y="1281" width="47" height="46" fill="#340a5f"/><rect x="2070" y="1281" width="46" height="46" fill="#2b0b57"/><rect x="2116" y="1281" width="46" height="46" fill="#260c51"/><rect x="313" y="1327" width="185" height="47" fill="#3d0965"/><rect x="498" y="1327" width="46" height="47" fill="#450a69"/><rect x="544" y="1327" width="46" height="47" fill="#520e6d"/><rect x="590" y="1327" width="47" height="47" fill="#57106e"/><rect x="637" y="1327" width="46" height="47" fill="#62146e"/><rect x="683" y="1327" width="46" height="47" fill="#721a6e"/><rect x="729" y="1327" width="46" height="47" fill="#84206b"/><rect x="775" y="1327" width="46" height="47" fill="#9b2964"/><rect x="821" y="1327" width="47" height="47" fill="#b3325a"/><rect x="868" y="1327" width="46" height="47" fill="#ca404a"/><rect x="914" y="1327" width="46" height="47" fill="#da4e3c"/><rect x="960" y="1327" width="46" height="47" fill="#e55c30"/><rect x="1006" y="1327" width="47" height="47" fill="#f1731d"/><rect x="1053" y="1327" width="46" height="47" fill="#f78410"/><rect x="1099" y="1327" width="46" height="47" fill="#fb9b06"/><rect x="1145" y="1327" width="46" height="47" fill="#fcae12"/><rect x="1191" y="1327" width="47" height="47" fill="#f9c72f"/><rect x="1238" y="1327" width="46" height="47" fill="#f1ef75"/><rect x="1284" y="1327" width="46" height="47" fill="#f9fc9d"/><rect x="1330" y="1327" width="46" height="47" fill="#f2ea69"/><rect x="1376" y="1327" width="46" height="47" fill="#fcb418"/><rect x="1422" y="1327" width="47" height="47" fill="#f78410"/><rect x="1469" y="1327" width="46" height="47" fill="#ea632a"/><rect x="1515" y="1327" width="46" height="47" fill="#dd513a"/><rect x="1561" y="1327" width="46" height="47" fill="#ca404a"/><rect x="1607" y="1327" width="47" height="47" fill="#bf3952"/><rect x="1654" y="1327" width="46" height="47" fill="#b73557"/><rect x="1700" y="1327" width="46" height="47" fill="#b0315b"/><rect x="1746" y="1327" width="46" height="47" fill="#a32c61"/><rect x="1792" y="1327" width="46" height="47" fill="#8f2469"/><rect x="1838" y="1327" width="47" height="47" fill="#7c1d6d"/><rect x="1885" y="1327" width="46" height="47" fill="#6a176e"/><rect x="1931" y="1327" width="46" height="47" fill="#57106e"/><rect x="1977" y="1327" width="46" height="47" fill="#450a69"/><rect x="2023" y="1327" width="47" height="47" fill="#390963"/><rect x="2070" y="1327" width="46" height="47" fill="#2f0a5b"/><rect x="2116" y="1327" width="46" height="47" fill="#2b0b57"/><rect x="313" y="1374" width="92" height="46" fill="#420a68"/><rect x="405" y="1374" width="93" height="46" fill="#3d0965"/><rect x="498" y="1374" width="46" height="46" fill="#450a69"/><rect x="544" y="1374" width="46" height="46" fill="#4a0c6b"/><rect x="590" y="1374" width="47" height="46" fill="#520e6d"/><rect x="637" y="1374" width="46" height="46" fill="#5a116e"/><rect x="683" y="1374" width="46" height="46" fill="#67166e"/><rect x="729" y="1374" width="46" height="46" fill="#771c6d"/><rect x="775" y="1374" width="46" height="46" fill="#932667"/><rect x="821" y="1374" width="47" height="46" fill="#a82e5f"/><rect x="868" y="1374" width="46" height="46" fill="#bc3754"/><rect x="914" y="1374" width="46" height="46" fill="#ca404a"/><rect x="960" y="1374" width="46" height="46" fill="#da4e3c"/><rect x="1006" y="1374" width="47" height="46" fill="#e55c30"/><rect x="1053" y="1374" width="46" height="46" fill="#ee6a24"/><rect x="1099" y="1374" width="46" height="46" fill="#f78410"/><rect x="1145" y="1374" width="46" height="46" fill="#fb9b06"/><rect x="1191" y="1374" width="47" height="46" fill="#fcb418"/><rect x="1238" y="1374" width="46" height="46" fill="#f5db4c"/><rect x="1284" y="1374" width="46" height="46" fill="#f2ea69"/><rect x="1330" y="1374" width="46" height="46" fill="#f7d13d"/><rect x="1376" y="1374" width="46" height="46" fill="#fcaa0f"/><rect x="1422" y="1374" width="47" height="46" fill="#f68013"/><rect x="1469" y="1374" width="46" height="46" fill="#ea632a"/><rect x="1515" y="1374" width="46" height="46" fill="#da4e3c"/><rect x="1561" y="1374" width="46" height="46" fill="#ca404a"/><rect x="1607" y="1374" width="47" height="46" fill="#bf3952"/><rect x="1654" y="1374" width="46" height="46" fill="#b73557"/><rect x="1700" y="1374" width="46" height="46" fill="#b3325a"/><rect x="1746" y="1374" width="46" height="46" fill="#a82e5f"/><rect x="1792" y="1374" width="46" height="46" fill="#972766"/><rect x="1838" y="1374" width="47" height="46" fill="#84206b"/><rect x="1885" y="1374" width="46" height="46" fill="#721a6e"/><rect x="1931" y="1374" width="46" height="46" fill="#62146e"/><rect x="1977" y="1374" width="46" height="46" fill="#4d0d6c"/><rect x="2023" y="1374" width="47" height="46" fill="#3d0965"/><rect x="2070" y="1374" width="46" height="46" fill="#340a5f"/><rect x="2116" y="1374" width="46" height="46" fill="#2b0b57"/><rect x="313" y="1420" width="231" height="46" fill="#3d0965"/><rect x="544" y="1420" width="46" height="46" fill="#450a69"/><rect x="590" y="1420" width="47" height="46" fill="#4a0c6b"/><rect x="637" y="1420" width="46" height="46" fill="#57106e"/><rect x="683" y="1420" width="46" height="46" fill="#62146e"/><rect x="729" y="1420" width="46" height="46" fill="#721a6e"/><rect x="775" y="1420" width="46" height="46" fill="#87216b"/><rect x="821" y="1420" width="47" height="46" fill="#9b2964"/><rect x="868" y="1420" width="46" height="46" fill="#ab2f5e"/><rect x="914" y="1420" width="46" height="46" fill="#bc3754"/><rect x="960" y="1420" width="46" height="46" fill="#ca404a"/><rect x="1006" y="1420" width="47" height="46" fill="#d74b3f"/><rect x="1053" y="1420" width="46" height="46" fill="#e25734"/><rect x="1099" y="1420" width="46" height="46" fill="#f06f20"/><rect x="1145" y="1420" width="46" height="46" fill="#f78410"/><rect x="1191" y="1420" width="47" height="46" fill="#fca108"/><rect x="1238" y="1420" width="46" height="46" fill="#fcb418"/><rect x="1284" y="1420" width="46" height="46" fill="#fac42a"/><rect x="1330" y="1420" width="46" height="46" fill="#fbba1f"/><rect x="1376" y="1420" width="46" height="46" fill="#fb9b06"/><rect x="1422" y="1420" width="47" height="46" fill="#f37819"/><rect x="1469" y="1420" width="46" height="46" fill="#e55c30"/><rect x="1515" y="1420" width="46" height="46" fill="#da4e3c"/><rect x="1561" y="1420" width="46" height="46" fill="#ca404a"/><rect x="1607" y="1420" width="47" height="46" fill="#bf3952"/><rect x="1654" y="1420" width="46" height="46" fill="#b73557"/><rect x="1700" y="1420" width="46" height="46" fill="#b3325a"/><rect x="1746" y="1420" width="46" height="46" fill="#a82e5f"/><rect x="1792" y="1420" width="46" height="46" fill="#972766"/><rect x="1838" y="1420" width="47" height="46" fill="#84206b"/><rect x="1885" y="1420" width="46" height="46" fill="#721a6e"/><rect x="1931" y="1420" width="46" height="46" fill="#5f136e"/><rect x="1977" y="1420" width="46" height="46" fill="#4a0c6b"/><rect x="2023" y="1420" width="47" height="46" fill="#3d0965"/><rect x="2070" y="1420" width="46" height="46" fill="#340a5f"/><rect x="2116" y="1420" width="46" height="46" fill="#2b0b57"/><rect x="313" y="1466" width="46" height="46" fill="#2f0a5b"/><rect x="359" y="1466" width="93" height="46" fill="#390963"/><rect x="452" y="1466" width="92" height="46" fill="#340a5f"/><rect x="544" y="1466" width="46" height="46" fill="#3d0965"/><rect x="590" y="1466" width="47" height="46" fill="#450a69"/><rect x="637" y="1466" width="46" height="46" fill="#4a0c6b"/><rect x="683" y="1466" width="46" height="46" fill="#57106e"/><rect x="729" y="1466" width="46" height="46" fill="#6a176e"/><rect x="775" y="1466" width="46" height="46" fill="#7c1d6d"/><rect x="821" y="1466" width="47" height="46" fill="#8c2369"/><rect x="868" y="1466" width="46" height="46" fill="#a02a63"/><rect x="914" y="1466" width="46" height="46" fill="#b0315b"/><rect x="960" y="1466" width="46" height="46" fill="#bf3952"/><rect x="1006" y="1466" width="47" height="46" fill="#cc4248"/><rect x="1053" y="1466" width="46" height="46" fill="#da4e3c"/><rect x="1099" y="1466" width="46" height="46" fill="#e75e2e"/><rect x="1145" y="1466" width="46" height="46" fill="#f1731d"/><rect x="1191" y="1466" width="47" height="46" fill="#f98e09"/><rect x="1238" y="1466" width="46" height="46" fill="#fb9b06"/><rect x="1284" y="1466" width="46" height="46" fill="#fcaa0f"/><rect x="1330" y="1466" width="46" height="46" fill="#fca50a"/><rect x="1376" y="1466" width="46" height="46" fill="#f8890c"/><rect x="1422" y="1466" width="47" height="46" fill="#eb6628"/><rect x="1469" y="1466" width="46" height="46" fill="#e05536"/><rect x="1515" y="1466" width="46" height="46" fill="#d74b3f"/><rect x="1561" y="1466" width="46" height="46" fill="#ca404a"/><rect x="1607" y="1466" width="47" height="46" fill="#bf3952"/><rect x="1654" y="1466" width="46" height="46" fill="#b73557"/><rect x="1700" y="1466" width="46" height="46" fill="#ab2f5e"/><rect x="1746" y="1466" width="46" height="46" fill="#a32c61"/><rect x="1792" y="1466" width="46" height="46" fill="#972766"/><rect x="1838" y="1466" width="47" height="46" fill="#84206b"/><rect x="1885" y="1466" width="46" height="46" fill="#6f196e"/><rect x="1931" y="1466" width="46" height="46" fill="#57106e"/><rect x="1977" y="1466" width="46" height="46" fill="#420a68"/><rect x="2023" y="1466" width="47" height="46" fill="#3d0965"/><rect x="2070" y="1466" width="46" height="46" fill="#390963"/><rect x="2116" y="1466" width="46" height="46" fill="#2b0b57"/><rect x="313" y="1512" width="46" height="46" fill="#260c51"/><rect x="359" y="1512" width="93" height="46" fill="#2f0a5b"/><rect x="452" y="1512" width="92" height="46" fill="#2b0b57"/><rect x="544" y="1512" width="46" height="46" fill="#340a5f"/><rect x="590" y="1512" width="47" height="46" fill="#3d0965"/><rect x="637" y="1512" width="46" height="46" fill="#450a69"/><rect x="683" y="1512" width="46" height="46" fill="#4d0d6c"/><rect x="729" y="1512" width="46" height="46" fill="#62146e"/><rect x="775" y="1512" width="46" height="46" fill="#721a6e"/><rect x="821" y="1512" width="47" height="46" fill="#7c1d6d"/><rect x="868" y="1512" width="46" height="46" fill="#8f2469"/><rect x="914" y="1512" width="46" height="46" fill="#a32c61"/><rect x="960" y="1512" width="46" height="46" fill="#b3325a"/><rect x="1006" y="1512" width="47" height="46" fill="#c63d4d"/><rect x="1053" y="1512" width="46" height="46" fill="#d74b3f"/><rect x="1099" y="1512" width="46" height="46" fill="#e25734"/><rect x="1145" y="1512" width="46" height="46" fill="#eb6628"/><rect x="1191" y="1512" width="47" height="46" fill="#f37819"/><rect x="1238" y="1512" width="46" height="46" fill="#f68013"/><rect x="1284" y="1512" width="92" height="46" fill="#f8890c"/><rect x="1376" y="1512" width="46" height="46" fill="#f1731d"/><rect x="1422" y="1512" width="47" height="46" fill="#e55c30"/><rect x="1469" y="1512" width="46" height="46" fill="#da4e3c"/><rect x="1515" y="1512" width="46" height="46" fill="#d34743"/><rect x="1561" y="1512" width="46" height="46" fill="#c63d4d"/><rect x="1607" y="1512" width="47" height="46" fill="#bf3952"/><rect x="1654" y="1512" width="46" height="46" fill="#b3325a"/><rect x="1700" y="1512" width="46" height="46" fill="#ab2f5e"/><rect x="1746" y="1512" width="46" height="46" fill="#a02a63"/><rect x="1792" y="1512" width="46" height="46" fill="#932667"/><rect x="1838" y="1512" width="47" height="46" fill="#7f1e6c"/><rect x="1885" y="1512" width="46" height="46" fill="#6a176e"/><rect x="1931" y="1512" width="46" height="46" fill="#57106e"/><rect x="1977" y="1512" width="46" height="46" fill="#3d0965"/><rect x="2023" y="1512" width="47" height="46" fill="#2f0a5b"/><rect x="2070" y="1512" width="46" height="46" fill="#2b0b57"/><rect x="2116" y="1512" width="46" height="46" fill="#260c51"/><rect x="313" y="1558" width="46" height="46" fill="#230c4c"/><rect x="359" y="1558" width="46" height="46" fill="#260c51"/><rect x="405" y="1558" width="139" height="46" fill="#2b0b57"/><rect x="544" y="1558" width="46" height="46" fill="#340a5f"/><rect x="590" y="1558" width="47" height="46" fill="#3d0965"/><rect x="637" y="1558" width="46" height="46" fill="#420a68"/><rect x="683" y="1558" width="46" height="46" fill="#4a0c6b"/><rect x="729" y="1558" width="46" height="46" fill="#57106e"/><rect x="775" y="1558" width="46" height="46" fill="#67166e"/><rect x="821" y="1558" width="47" height="46" fill="#721a6e"/><rect x="868" y="1558" width="46" height="46" fill="#84206b"/><rect x="914" y="1558" width="46" height="46" fill="#972766"/><rect x="960" y="1558" width="46" height="46" fill="#ab2f5e"/><rect x="1006" y="1558" width="47" height="46" fill="#bf3952"/><rect x="1053" y="1558" width="46" height="46" fill="#d34743"/><rect x="1099" y="1558" width="46" height="46" fill="#e25734"/><rect x="1145" y="1558" width="46" height="46" fill="#eb6628"/><rect x="1191" y="1558" width="93" height="46" fill="#f1731d"/><rect x="1284" y="1558" width="46" height="46" fill="#f06f20"/><rect x="1330" y="1558" width="46" height="46" fill="#eb6628"/><rect x="1376" y="1558" width="46" height="46" fill="#e55c30"/><rect x="1422" y="1558" width="47" height="46" fill="#da4e3c"/><rect x="1469" y="1558" width="46" height="46" fill="#d04545"/><rect x="1515" y="1558" width="46" height="46" fill="#ca404a"/><rect x="1561" y="1558" width="46" height="46" fill="#c33b4f"/><rect x="1607" y="1558" width="47" height="46" fill="#bc3754"/><rect x="1654" y="1558" width="46" height="46" fill="#b0315b"/><rect x="1700" y="1558" width="46" height="46" fill="#a82e5f"/><rect x="1746" y="1558" width="46" height="46" fill="#9b2964"/><rect x="1792" y="1558" width="46" height="46" fill="#8f2469"/><rect x="1838" y="1558" width="47" height="46" fill="#7f1e6c"/><rect x="1885" y="1558" width="46" height="46" fill="#6a176e"/><rect x="1931" y="1558" width="46" height="46" fill="#520e6d"/><rect x="1977" y="1558" width="46" height="46" fill="#390963"/><rect x="2023" y="1558" width="47" height="46" fill="#2b0b57"/><rect x="2070" y="1558" width="46" height="46" fill="#260c51"/><rect x="2116" y="1558" width="46" height="46" fill="#230c4c"/><rect x="313" y="1604" width="46" height="47" fill="#230c4c"/><rect x="359" y="1604" width="46" height="47" fill="#260c51"/><rect x="405" y="1604" width="185" height="47" fill="#2b0b57"/><rect x="590" y="1604" width="47" height="47" fill="#390963"/><rect x="637" y="1604" width="46" height="47" fill="#3d0965"/><rect x="683" y="1604" width="46" height="47" fill="#450a69"/><rect x="729" y="1604" width="46" height="47" fill="#520e6d"/><rect x="775" y="1604" width="46" height="47" fill="#5f136e"/><rect x="821" y="1604" width="47" height="47" fill="#6a176e"/><rect x="868" y="1604" width="46" height="47" fill="#771c6d"/><rect x="914" y="1604" width="46" height="47" fill="#84206b"/><rect x="960" y="1604" width="46" height="47" fill="#9b2964"/><rect x="1006" y="1604" width="47" height="47" fill="#b0315b"/><rect x="1053" y="1604" width="46" height="47" fill="#ca404a"/><rect x="1099" y="1604" width="46" height="47" fill="#dd513a"/><rect x="1145" y="1604" width="46" height="47" fill="#ea632a"/><rect x="1191" y="1604" width="47" height="47" fill="#f1731d"/><rect x="1238" y="1604" width="46" height="47" fill="#f06f20"/><rect x="1284" y="1604" width="46" height="47" fill="#eb6628"/><rect x="1330" y="1604" width="46" height="47" fill="#e55c30"/><rect x="1376" y="1604" width="46" height="47" fill="#dd513a"/><rect x="1422" y="1604" width="47" height="47" fill="#d34743"/><rect x="1469" y="1604" width="46" height="47" fill="#ca404a"/><rect x="1515" y="1604" width="46" height="47" fill="#c33b4f"/><rect x="1561" y="1604" width="46" height="47" fill="#bf3952"/><rect x="1607" y="1604" width="47" height="47" fill="#b73557"/><rect x="1654" y="1604" width="46" height="47" fill="#ab2f5e"/><rect x="1700" y="1604" width="46" height="47" fill="#a02a63"/><rect x="1746" y="1604" width="46" height="47" fill="#8c2369"/><rect x="1792" y="1604" width="46" height="47" fill="#84206b"/><rect x="1838" y="1604" width="47" height="47" fill="#7c1d6d"/><rect x="1885" y="1604" width="46" height="47" fill="#6a176e"/><rect x="1931" y="1604" width="46" height="47" fill="#520e6d"/><rect x="1977" y="1604" width="46" height="47" fill="#390963"/><rect x="2023" y="1604" width="47" height="47" fill="#260c51"/><rect x="2070" y="1604" width="46" height="47" fill="#1b0c41"/><rect x="2116" y="1604" width="46" height="47" fill="#160b39"/><rect x="313" y="1651" width="46" height="46" fill="#2b0b57"/><rect x="359" y="1651" width="46" height="46" fill="#260c51"/><rect x="405" y="1651" width="185" height="46" fill="#2b0b57"/><rect x="590" y="1651" width="47" height="46" fill="#2f0a5b"/><rect x="637" y="1651" width="46" height="46" fill="#340a5f"/><rect x="683" y="1651" width="46" height="46" fill="#3d0965"/><rect x="729" y="1651" width="46" height="46" fill="#450a69"/><rect x="775" y="1651" width="46" height="46" fill="#57106e"/><rect x="821" y="1651" width="47" height="46" fill="#62146e"/><rect x="868" y="1651" width="46" height="46" fill="#6a176e"/><rect x="914" y="1651" width="46" height="46" fill="#721a6e"/><rect x="960" y="1651" width="46" height="46" fill="#84206b"/><rect x="1006" y="1651" width="47" height="46" fill="#a02a63"/><rect x="1053" y="1651" width="46" height="46" fill="#bf3952"/><rect x="1099" y="1651" width="46" height="46" fill="#d74b3f"/><rect x="1145" y="1651" width="46" height="46" fill="#e75e2e"/><rect x="1191" y="1651" width="47" height="46" fill="#f06f20"/><rect x="1238" y="1651" width="46" height="46" fill="#f1731d"/><rect x="1284" y="1651" width="46" height="46" fill="#eb6628"/><rect x="1330" y="1651" width="46" height="46" fill="#e25734"/><rect x="1376" y="1651" width="46" height="46" fill="#d74b3f"/><rect x="1422" y="1651" width="47" height="46" fill="#cc4248"/><rect x="1469" y="1651" width="46" height="46" fill="#c63d4d"/><rect x="1515" y="1651" width="46" height="46" fill="#bf3952"/><rect x="1561" y="1651" width="46" height="46" fill="#bc3754"/><rect x="1607" y="1651" width="47" height="46" fill="#b3325a"/><rect x="1654" y="1651" width="46" height="46" fill="#a82e5f"/><rect x="1700" y="1651" width="46" height="46" fill="#9b2964"/><rect x="1746" y="1651" width="46" height="46" fill="#84206b"/><rect x="1792" y="1651" width="46" height="46" fill="#721a6e"/><rect x="1838" y="1651" width="47" height="46" fill="#6f196e"/><rect x="1885" y="1651" width="46" height="46" fill="#62146e"/><rect x="1931" y="1651" width="46" height="46" fill="#4d0d6c"/><rect x="1977" y="1651" width="46" height="46" fill="#390963"/><rect x="2023" y="1651" width="47" height="46" fill="#230c4c"/><rect x="2070" y="1651" width="46" height="46" fill="#140b34"/><rect x="2116" y="1651" width="46" height="46" fill="#10092d"/><rect x="313" y="1697" width="46" height="46" fill="#2b0b57"/><rect x="359" y="1697" width="93" height="46" fill="#260c51"/><rect x="452" y="1697" width="185" height="46" fill="#2b0b57"/><rect x="637" y="1697" width="46" height="46" fill="#2f0a5b"/><rect x="683" y="1697" width="92" height="46" fill="#3d0965"/><rect x="775" y="1697" width="46" height="46" fill="#4a0c6b"/><rect x="821" y="1697" width="47" height="46" fill="#57106e"/><rect x="868" y="1697" width="46" height="46" fill="#62146e"/><rect x="914" y="1697" width="46" height="46" fill="#6f196e"/><rect x="960" y="1697" width="46" height="46" fill="#7f1e6c"/><rect x="1006" y="1697" width="47" height="46" fill="#9b2964"/><rect x="1053" y="1697" width="46" height="46" fill="#bc3754"/><rect x="1099" y="1697" width="46" height="46" fill="#d04545"/><rect x="1145" y="1697" width="46" height="46" fill="#e25734"/><rect x="1191" y="1697" width="47" height="46" fill="#eb6628"/><rect x="1238" y="1697" width="46" height="46" fill="#f06f20"/><rect x="1284" y="1697" width="46" height="46" fill="#ea632a"/><rect x="1330" y="1697" width="46" height="46" fill="#e05536"/><rect x="1376" y="1697" width="46" height="46" fill="#d34743"/><rect x="1422" y="1697" width="47" height="46" fill="#ca404a"/><rect x="1469" y="1697" width="46" height="46" fill="#c63d4d"/><rect x="1515" y="1697" width="46" height="46" fill="#bf3952"/><rect x="1561" y="1697" width="46" height="46" fill="#bc3754"/><rect x="1607" y="1697" width="47" height="46" fill="#b73557"/><rect x="1654" y="1697" width="46" height="46" fill="#b3325a"/><rect x="1700" y="1697" width="46" height="46" fill="#ab2f5e"/><rect x="1746" y="1697" width="46" height="46" fill="#8f2469"/><rect x="1792" y="1697" width="46" height="46" fill="#721a6e"/><rect x="1838" y="1697" width="47" height="46" fill="#57106e"/><rect x="1885" y="1697" width="46" height="46" fill="#4d0d6c"/><rect x="1931" y="1697" width="46" height="46" fill="#450a69"/><rect x="1977" y="1697" width="46" height="46" fill="#2b0b57"/><rect x="2023" y="1697" width="47" height="46" fill="#1b0c41"/><rect x="2070" y="1697" width="46" height="46" fill="#10092d"/><rect x="2116" y="1697" width="46" height="46" fill="#0a0722"/><rect x="313" y="1743" width="46" height="46" fill="#2b0b57"/><rect x="359" y="1743" width="46" height="46" fill="#230c4c"/><rect x="405" y="1743" width="47" height="46" fill="#1e0c45"/><rect x="452" y="1743" width="138" height="46" fill="#260c51"/><rect x="590" y="1743" width="47" height="46" fill="#230c4c"/><rect x="637" y="1743" width="46" height="46" fill="#2b0b57"/><rect x="683" y="1743" width="92" height="46" fill="#390963"/><rect x="775" y="1743" width="46" height="46" fill="#420a68"/><rect x="821" y="1743" width="47" height="46" fill="#4a0c6b"/><rect x="868" y="1743" width="46" height="46" fill="#57106e"/><rect x="914" y="1743" width="46" height="46" fill="#62146e"/><rect x="960" y="1743" width="46" height="46" fill="#771c6d"/><rect x="1006" y="1743" width="47" height="46" fill="#8c2369"/><rect x="1053" y="1743" width="46" height="46" fill="#ab2f5e"/><rect x="1099" y="1743" width="46" height="46" fill="#c63d4d"/><rect x="1145" y="1743" width="46" height="46" fill="#d74b3f"/><rect x="1191" y="1743" width="47" height="46" fill="#e55c30"/><rect x="1238" y="1743" width="46" height="46" fill="#ea632a"/><rect x="1284" y="1743" width="46" height="46" fill="#e55c30"/><rect x="1330" y="1743" width="46" height="46" fill="#da4e3c"/><rect x="1376" y="1743" width="46" height="46" fill="#d04545"/><rect x="1422" y="1743" width="47" height="46" fill="#ca404a"/><rect x="1469" y="1743" width="46" height="46" fill="#c63d4d"/><rect x="1515" y="1743" width="46" height="46" fill="#bf3952"/><rect x="1561" y="1743" width="139" height="46" fill="#bc3754"/><rect x="1700" y="1743" width="46" height="46" fill="#b3325a"/><rect x="1746" y="1743" width="46" height="46" fill="#972766"/><rect x="1792" y="1743" width="46" height="46" fill="#6a176e"/><rect x="1838" y="1743" width="47" height="46" fill="#420a68"/><rect x="1885" y="1743" width="46" height="46" fill="#2f0a5b"/><rect x="1931" y="1743" width="46" height="46" fill="#2b0b57"/><rect x="1977" y="1743" width="46" height="46" fill="#230c4c"/><rect x="2023" y="1743" width="47" height="46" fill="#1b0c41"/><rect x="2070" y="1743" width="46" height="46" fill="#140b34"/><rect x="2116" y="1743" width="46" height="46" fill="#0a0722"/><rect x="313" y="1789" width="46" height="47" fill="#2b0b57"/><rect x="359" y="1789" width="46" height="47" fill="#230c4c"/><rect x="405" y="1789" width="93" height="47" fill="#1e0c45"/><rect x="498" y="1789" width="139" height="47" fill="#230c4c"/><rect x="637" y="1789" width="46" height="47" fill="#2b0b57"/><rect x="683" y="1789" width="92" height="47" fill="#340a5f"/><rect x="775" y="1789" width="46" height="47" fill="#390963"/><rect x="821" y="1789" width="47" height="47" fill="#420a68"/><rect x="868" y="1789" width="46" height="47" fill="#4a0c6b"/><rect x="914" y="1789" width="46" height="47" fill="#57106e"/><rect x="960" y="1789" width="46" height="47" fill="#67166e"/><rect x="1006" y="1789" width="47" height="47" fill="#7c1d6d"/><rect x="1053" y="1789" width="46" height="47" fill="#9b2964"/><rect x="1099" y="1789" width="46" height="47" fill="#b73557"/><rect x="1145" y="1789" width="46" height="47" fill="#cc4248"/><rect x="1191" y="1789" width="47" height="47" fill="#da4e3c"/><rect x="1238" y="1789" width="46" height="47" fill="#e25734"/><rect x="1284" y="1789" width="46" height="47" fill="#e05536"/><rect x="1330" y="1789" width="46" height="47" fill="#dd513a"/><rect x="1376" y="1789" width="46" height="47" fill="#da4e3c"/><rect x="1422" y="1789" width="47" height="47" fill="#d74b3f"/><rect x="1469" y="1789" width="46" height="47" fill="#d34743"/><rect x="1515" y="1789" width="46" height="47" fill="#ca404a"/><rect x="1561" y="1789" width="46" height="47" fill="#c63d4d"/><rect x="1607" y="1789" width="93" height="47" fill="#c33b4f"/><rect x="1700" y="1789" width="46" height="47" fill="#bc3754"/><rect x="1746" y="1789" width="46" height="47" fill="#9b2964"/><rect x="1792" y="1789" width="46" height="47" fill="#6a176e"/><rect x="1838" y="1789" width="47" height="47" fill="#3d0965"/><rect x="1885" y="1789" width="138" height="47" fill="#1e0c45"/><rect x="2023" y="1789" width="47" height="47" fill="#1b0c41"/><rect x="2070" y="1789" width="46" height="47" fill="#160b39"/><rect x="2116" y="1789" width="46" height="47" fill="#0c0826"/><rect x="313" y="1836" width="92" height="46" fill="#260c51"/><rect x="405" y="1836" width="139" height="46" fill="#230c4c"/><rect x="544" y="1836" width="139" height="46" fill="#260c51"/><rect x="683" y="1836" width="92" height="46" fill="#2b0b57"/><rect x="775" y="1836" width="46" height="46" fill="#2f0a5b"/><rect x="821" y="1836" width="47" height="46" fill="#390963"/><rect x="868" y="1836" width="46" height="46" fill="#450a69"/><rect x="914" y="1836" width="46" height="46" fill="#4a0c6b"/><rect x="960" y="1836" width="46" height="46" fill="#57106e"/><rect x="1006" y="1836" width="47" height="46" fill="#6a176e"/><rect x="1053" y="1836" width="46" height="46" fill="#84206b"/><rect x="1099" y="1836" width="46" height="46" fill="#a02a63"/><rect x="1145" y="1836" width="46" height="46" fill="#b73557"/><rect x="1191" y="1836" width="47" height="46" fill="#c63d4d"/><rect x="1238" y="1836" width="46" height="46" fill="#ca404a"/><rect x="1284" y="1836" width="46" height="46" fill="#cc4248"/><rect x="1330" y="1836" width="46" height="46" fill="#d34743"/><rect x="1376" y="1836" width="46" height="46" fill="#dd513a"/><rect x="1422" y="1836" width="47" height="46" fill="#e25734"/><rect x="1469" y="1836" width="46" height="46" fill="#e05536"/><rect x="1515" y="1836" width="46" height="46" fill="#d34743"/><rect x="1561" y="1836" width="46" height="46" fill="#ca404a"/><rect x="1607" y="1836" width="93" height="46" fill="#c63d4d"/><rect x="1700" y="1836" width="46" height="46" fill="#b3325a"/><rect x="1746" y="1836" width="46" height="46" fill="#932667"/><rect x="1792" y="1836" width="46" height="46" fill="#62146e"/><rect x="1838" y="1836" width="47" height="46" fill="#2f0a5b"/><rect x="1885" y="1836" width="92" height="46" fill="#160b39"/><rect x="1977" y="1836" width="93" height="46" fill="#1b0c41"/><rect x="2070" y="1836" width="46" height="46" fill="#160b39"/><rect x="2116" y="1836" width="46" height="46" fill="#10092d"/><rect x="313" y="1882" width="46" height="46" fill="#1e0c45"/><rect x="359" y="1882" width="185" height="46" fill="#230c4c"/><rect x="544" y="1882" width="139" height="46" fill="#260c51"/><rect x="683" y="1882" width="46" height="46" fill="#230c4c"/><rect x="729" y="1882" width="46" height="46" fill="#260c51"/><rect x="775" y="1882" width="46" height="46" fill="#2b0b57"/><rect x="821" y="1882" width="47" height="46" fill="#340a5f"/><rect x="868" y="1882" width="46" height="46" fill="#390963"/><rect x="914" y="1882" width="46" height="46" fill="#420a68"/><rect x="960" y="1882" width="46" height="46" fill="#450a69"/><rect x="1006" y="1882" width="47" height="46" fill="#57106e"/><rect x="1053" y="1882" width="46" height="46" fill="#6a176e"/><rect x="1099" y="1882" width="46" height="46" fill="#7c1d6d"/><rect x="1145" y="1882" width="46" height="46" fill="#932667"/><rect x="1191" y="1882" width="47" height="46" fill="#a82e5f"/><rect x="1238" y="1882" width="46" height="46" fill="#b3325a"/><rect x="1284" y="1882" width="46" height="46" fill="#bf3952"/><rect x="1330" y="1882" width="46" height="46" fill="#cc4248"/><rect x="1376" y="1882" width="46" height="46" fill="#da4e3c"/><rect x="1422" y="1882" width="47" height="46" fill="#e25734"/><rect x="1469" y="1882" width="46" height="46" fill="#e05536"/><rect x="1515" y="1882" width="46" height="46" fill="#d74b3f"/><rect x="1561" y="1882" width="46" height="46" fill="#ca404a"/><rect x="1607" y="1882" width="47" height="46" fill="#c63d4d"/><rect x="1654" y="1882" width="46" height="46" fill="#c33b4f"/><rect x="1700" y="1882" width="46" height="46" fill="#b0315b"/><rect x="1746" y="1882" width="46" height="46" fill="#87216b"/><rect x="1792" y="1882" width="46" height="46" fill="#5a116e"/><rect x="1838" y="1882" width="47" height="46" fill="#2b0b57"/><rect x="1885" y="1882" width="185" height="46" fill="#160b39"/><rect x="2070" y="1882" width="46" height="46" fill="#140b34"/><rect x="2116" y="1882" width="46" height="46" fill="#10092d"/><rect x="313" y="1928" width="46" height="46" fill="#160b39"/><rect x="359" y="1928" width="46" height="46" fill="#1e0c45"/><rect x="405" y="1928" width="47" height="46" fill="#230c4c"/><rect x="452" y="1928" width="138" height="46" fill="#1e0c45"/><rect x="590" y="1928" width="47" height="46" fill="#2b0b57"/><rect x="637" y="1928" width="46" height="46" fill="#260c51"/><rect x="683" y="1928" width="92" height="46" fill="#1e0c45"/><rect x="775" y="1928" width="46" height="46" fill="#260c51"/><rect x="821" y="1928" width="93" height="46" fill="#2b0b57"/><rect x="914" y="1928" width="46" height="46" fill="#2f0a5b"/><rect x="960" y="1928" width="46" height="46" fill="#390963"/><rect x="1006" y="1928" width="47" height="46" fill="#420a68"/><rect x="1053" y="1928" width="46" height="46" fill="#520e6d"/><rect x="1099" y="1928" width="46" height="46" fill="#62146e"/><rect x="1145" y="1928" width="46" height="46" fill="#771c6d"/><rect x="1191" y="1928" width="47" height="46" fill="#84206b"/><rect x="1238" y="1928" width="46" height="46" fill="#932667"/><rect x="1284" y="1928" width="46" height="46" fill="#b0315b"/><rect x="1330" y="1928" width="46" height="46" fill="#ca404a"/><rect x="1376" y="1928" width="46" height="46" fill="#da4e3c"/><rect x="1422" y="1928" width="93" height="46" fill="#e05536"/><rect x="1515" y="1928" width="46" height="46" fill="#da4e3c"/><rect x="1561" y="1928" width="46" height="46" fill="#d04545"/><rect x="1607" y="1928" width="47" height="46" fill="#ca404a"/><rect x="1654" y="1928" width="46" height="46" fill="#c33b4f"/><rect x="1700" y="1928" width="46" height="46" fill="#b0315b"/><rect x="1746" y="1928" width="46" height="46" fill="#84206b"/><rect x="1792" y="1928" width="46" height="46" fill="#5a116e"/><rect x="1838" y="1928" width="47" height="46" fill="#2b0b57"/><rect x="1885" y="1928" width="46" height="46" fill="#230c4c"/><rect x="1931" y="1928" width="46" height="46" fill="#160b39"/><rect x="1977" y="1928" width="93" height="46" fill="#140b34"/><rect x="2070" y="1928" width="92" height="46" fill="#10092d"/><rect x="313" y="1974" width="46" height="46" fill="#10092d"/><rect x="359" y="1974" width="46" height="46" fill="#160b39"/><rect x="405" y="1974" width="93" height="46" fill="#1e0c45"/><rect x="498" y="1974" width="46" height="46" fill="#1b0c41"/><rect x="544" y="1974" width="93" height="46" fill="#230c4c"/><rect x="637" y="1974" width="46" height="46" fill="#260c51"/><rect x="683" y="1974" width="46" height="46" fill="#230c4c"/><rect x="729" y="1974" width="92" height="46" fill="#1e0c45"/><rect x="821" y="1974" width="139" height="46" fill="#260c51"/><rect x="960" y="1974" width="46" height="46" fill="#2b0b57"/><rect x="1006" y="1974" width="47" height="46" fill="#390963"/><rect x="1053" y="1974" width="46" height="46" fill="#450a69"/><rect x="1099" y="1974" width="46" height="46" fill="#57106e"/><rect x="1145" y="1974" width="46" height="46" fill="#62146e"/><rect x="1191" y="1974" width="47" height="46" fill="#6a176e"/><rect x="1238" y="1974" width="46" height="46" fill="#84206b"/><rect x="1284" y="1974" width="46" height="46" fill="#ab2f5e"/><rect x="1330" y="1974" width="46" height="46" fill="#ca404a"/><rect x="1376" y="1974" width="46" height="46" fill="#dd513a"/><rect x="1422" y="1974" width="47" height="46" fill="#e25734"/><rect x="1469" y="1974" width="92" height="46" fill="#e55c30"/><rect x="1561" y="1974" width="46" height="46" fill="#e25734"/><rect x="1607" y="1974" width="47" height="46" fill="#da4e3c"/><rect x="1654" y="1974" width="46" height="46" fill="#ca404a"/><rect x="1700" y="1974" width="46" height="46" fill="#b73557"/><rect x="1746" y="1974" width="46" height="46" fill="#84206b"/><rect x="1792" y="1974" width="46" height="46" fill="#62146e"/><rect x="1838" y="1974" width="47" height="46" fill="#340a5f"/><rect x="1885" y="1974" width="46" height="46" fill="#230c4c"/><rect x="1931" y="1974" width="46" height="46" fill="#1e0c45"/><rect x="1977" y="1974" width="46" height="46" fill="#10092d"/><rect x="2023" y="1974" width="47" height="46" fill="#0a0722"/><rect x="2070" y="1974" width="46" height="46" fill="#0c0826"/><rect x="2116" y="1974" width="46" height="46" fill="#140b34"/><rect x="313" y="2020" width="92" height="46" fill="#140b34"/><rect x="405" y="2020" width="185" height="46" fill="#1e0c45"/><rect x="590" y="2020" width="47" height="46" fill="#230c4c"/><rect x="637" y="2020" width="46" height="46" fill="#260c51"/><rect x="683" y="2020" width="46" height="46" fill="#230c4c"/><rect x="729" y="2020" width="92" height="46" fill="#1e0c45"/><rect x="821" y="2020" width="93" height="46" fill="#230c4c"/><rect x="914" y="2020" width="46" height="46" fill="#1e0c45"/><rect x="960" y="2020" width="46" height="46" fill="#230c4c"/><rect x="1006" y="2020" width="47" height="46" fill="#2b0b57"/><rect x="1053" y="2020" width="46" height="46" fill="#3d0965"/><rect x="1099" y="2020" width="46" height="46" fill="#4a0c6b"/><rect x="1145" y="2020" width="46" height="46" fill="#520e6d"/><rect x="1191" y="2020" width="47" height="46" fill="#62146e"/><rect x="1238" y="2020" width="46" height="46" fill="#771c6d"/><rect x="1284" y="2020" width="46" height="46" fill="#ab2f5e"/><rect x="1330" y="2020" width="46" height="46" fill="#cc4248"/><rect x="1376" y="2020" width="46" height="46" fill="#e25734"/><rect x="1422" y="2020" width="47" height="46" fill="#ea632a"/><rect x="1469" y="2020" width="92" height="46" fill="#eb6628"/><rect x="1561" y="2020" width="46" height="46" fill="#e75e2e"/><rect x="1607" y="2020" width="47" height="46" fill="#e05536"/><rect x="1654" y="2020" width="46" height="46" fill="#d34743"/><rect x="1700" y="2020" width="46" height="46" fill="#bf3952"/><rect x="1746" y="2020" width="46" height="46" fill="#932667"/><rect x="1792" y="2020" width="46" height="46" fill="#57106e"/><rect x="1838" y="2020" width="47" height="46" fill="#2f0a5b"/><rect x="1885" y="2020" width="46" height="46" fill="#230c4c"/><rect x="1931" y="2020" width="46" height="46" fill="#1b0c41"/><rect x="1977" y="2020" width="46" height="46" fill="#0a0722"/><rect x="2023" y="2020" width="93" height="46" fill="#050417"/><rect x="2116" y="2020" width="46" height="46" fill="#07051b"/><rect x="313" y="2066" width="46" height="47" fill="#160b39"/><rect x="359" y="2066" width="46" height="47" fill="#140b34"/><rect x="405" y="2066" width="47" height="47" fill="#1b0c41"/><rect x="452" y="2066" width="46" height="47" fill="#230c4c"/><rect x="498" y="2066" width="185" height="47" fill="#1e0c45"/><rect x="683" y="2066" width="46" height="47" fill="#230c4c"/><rect x="729" y="2066" width="46" height="47" fill="#1b0c41"/><rect x="775" y="2066" width="46" height="47" fill="#140b34"/><rect x="821" y="2066" width="47" height="47" fill="#160b39"/><rect x="868" y="2066" width="138" height="47" fill="#1e0c45"/><rect x="1006" y="2066" width="47" height="47" fill="#230c4c"/><rect x="1053" y="2066" width="46" height="47" fill="#340a5f"/><rect x="1099" y="2066" width="46" height="47" fill="#420a68"/><rect x="1145" y="2066" width="46" height="47" fill="#4a0c6b"/><rect x="1191" y="2066" width="47" height="47" fill="#57106e"/><rect x="1238" y="2066" width="46" height="47" fill="#721a6e"/><rect x="1284" y="2066" width="46" height="47" fill="#a82e5f"/><rect x="1330" y="2066" width="46" height="47" fill="#cc4248"/><rect x="1376" y="2066" width="46" height="47" fill="#e55c30"/><rect x="1422" y="2066" width="93" height="47" fill="#ee6a24"/><rect x="1515" y="2066" width="46" height="47" fill="#ea632a"/><rect x="1561" y="2066" width="46" height="47" fill="#e55c30"/><rect x="1607" y="2066" width="47" height="47" fill="#da4e3c"/><rect x="1654" y="2066" width="46" height="47" fill="#cc4248"/><rect x="1700" y="2066" width="46" height="47" fill="#b0315b"/><rect x="1746" y="2066" width="46" height="47" fill="#7f1e6c"/><rect x="1792" y="2066" width="46" height="47" fill="#4a0c6b"/><rect x="1838" y="2066" width="47" height="47" fill="#260c51"/><rect x="1885" y="2066" width="46" height="47" fill="#230c4c"/><rect x="1931" y="2066" width="46" height="47" fill="#1e0c45"/><rect x="1977" y="2066" width="46" height="47" fill="#10092d"/><rect x="2023" y="2066" width="139" height="47" fill="#030210"/><rect x="313" y="2113" width="92" height="46" fill="#1e0c45"/><rect x="405" y="2113" width="139" height="46" fill="#230c4c"/><rect x="544" y="2113" width="46" height="46" fill="#1e0c45"/><rect x="590" y="2113" width="47" height="46" fill="#140b34"/><rect x="637" y="2113" width="138" height="46" fill="#160b39"/><rect x="775" y="2113" width="93" height="46" fill="#0c0826"/><rect x="868" y="2113" width="46" height="46" fill="#1b0c41"/><rect x="914" y="2113" width="139" height="46" fill="#1e0c45"/><rect x="1053" y="2113" width="46" height="46" fill="#230c4c"/><rect x="1099" y="2113" width="46" height="46" fill="#390963"/><rect x="1145" y="2113" width="46" height="46" fill="#450a69"/><rect x="1191" y="2113" width="47" height="46" fill="#4d0d6c"/><rect x="1238" y="2113" width="46" height="46" fill="#6f196e"/><rect x="1284" y="2113" width="46" height="46" fill="#a02a63"/><rect x="1330" y="2113" width="46" height="46" fill="#cc4248"/><rect x="1376" y="2113" width="46" height="46" fill="#e25734"/><rect x="1422" y="2113" width="47" height="46" fill="#ea632a"/><rect x="1469" y="2113" width="46" height="46" fill="#e55c30"/><rect x="1515" y="2113" width="46" height="46" fill="#e25734"/><rect x="1561" y="2113" width="46" height="46" fill="#da4e3c"/><rect x="1607" y="2113" width="47" height="46" fill="#cc4248"/><rect x="1654" y="2113" width="46" height="46" fill="#bf3952"/><rect x="1700" y="2113" width="46" height="46" fill="#9b2964"/><rect x="1746" y="2113" width="46" height="46" fill="#6a176e"/><rect x="1792" y="2113" width="46" height="46" fill="#3d0965"/><rect x="1838" y="2113" width="47" height="46" fill="#1b0c41"/><rect x="1885" y="2113" width="92" height="46" fill="#160b39"/><rect x="1977" y="2113" width="46" height="46" fill="#140b34"/><rect x="2023" y="2113" width="47" height="46" fill="#0c0826"/><rect x="2070" y="2113" width="92" height="46" fill="#030210"/><rect x="313" y="2159" width="46" height="46" fill="#2b0b57"/><rect x="359" y="2159" width="139" height="46" fill="#390963"/><rect x="498" y="2159" width="46" height="46" fill="#260c51"/><rect x="544" y="2159" width="46" height="46" fill="#230c4c"/><rect x="590" y="2159" width="47" height="46" fill="#140b34"/><rect x="637" y="2159" width="46" height="46" fill="#0c0826"/><rect x="683" y="2159" width="92" height="46" fill="#140b34"/><rect x="775" y="2159" width="93" height="46" fill="#0c0826"/><rect x="868" y="2159" width="46" height="46" fill="#160b39"/><rect x="914" y="2159" width="139" height="46" fill="#1e0c45"/><rect x="1053" y="2159" width="46" height="46" fill="#1b0c41"/><rect x="1099" y="2159" width="46" height="46" fill="#230c4c"/><rect x="1145" y="2159" width="46" height="46" fill="#340a5f"/><rect x="1191" y="2159" width="47" height="46" fill="#450a69"/><rect x="1238" y="2159" width="46" height="46" fill="#62146e"/><rect x="1284" y="2159" width="46" height="46" fill="#932667"/><rect x="1330" y="2159" width="46" height="46" fill="#bc3754"/><rect x="1376" y="2159" width="46" height="46" fill="#d74b3f"/><rect x="1422" y="2159" width="47" height="46" fill="#dd513a"/><rect x="1469" y="2159" width="46" height="46" fill="#da4e3c"/><rect x="1515" y="2159" width="46" height="46" fill="#d04545"/><rect x="1561" y="2159" width="46" height="46" fill="#c33b4f"/><rect x="1607" y="2159" width="47" height="46" fill="#b0315b"/><rect x="1654" y="2159" width="46" height="46" fill="#9b2964"/><rect x="1700" y="2159" width="46" height="46" fill="#7c1d6d"/><rect x="1746" y="2159" width="46" height="46" fill="#57106e"/><rect x="1792" y="2159" width="46" height="46" fill="#2b0b57"/><rect x="1838" y="2159" width="185" height="46" fill="#140b34"/><rect x="2023" y="2159" width="47" height="46" fill="#10092d"/><rect x="2070" y="2159" width="46" height="46" fill="#0a0722"/><rect x="2116" y="2159" width="46" height="46" fill="#030210"/><rect x="313" y="2205" width="46" height="46" fill="#2b0b57"/><rect x="359" y="2205" width="46" height="46" fill="#3d0965"/><rect x="405" y="2205" width="47" height="46" fill="#450a69"/><rect x="452" y="2205" width="46" height="46" fill="#390963"/><rect x="498" y="2205" width="46" height="46" fill="#260c51"/><rect x="544" y="2205" width="46" height="46" fill="#230c4c"/><rect x="590" y="2205" width="139" height="46" fill="#140b34"/><rect x="729" y="2205" width="92" height="46" fill="#160b39"/><rect x="821" y="2205" width="93" height="46" fill="#10092d"/><rect x="914" y="2205" width="46" height="46" fill="#160b39"/><rect x="960" y="2205" width="46" height="46" fill="#1e0c45"/><rect x="1006" y="2205" width="47" height="46" fill="#1b0c41"/><rect x="1053" y="2205" width="92" height="46" fill="#160b39"/><rect x="1145" y="2205" width="46" height="46" fill="#230c4c"/><rect x="1191" y="2205" width="47" height="46" fill="#3d0965"/><rect x="1238" y="2205" width="46" height="46" fill="#520e6d"/><rect x="1284" y="2205" width="46" height="46" fill="#7c1d6d"/><rect x="1330" y="2205" width="46" height="46" fill="#a82e5f"/><rect x="1376" y="2205" width="46" height="46" fill="#c33b4f"/><rect x="1422" y="2205" width="47" height="46" fill="#ca404a"/><rect x="1469" y="2205" width="46" height="46" fill="#c33b4f"/><rect x="1515" y="2205" width="46" height="46" fill="#b73557"/><rect x="1561" y="2205" width="46" height="46" fill="#a82e5f"/><rect x="1607" y="2205" width="47" height="46" fill="#9b2964"/><rect x="1654" y="2205" width="46" height="46" fill="#87216b"/><rect x="1700" y="2205" width="46" height="46" fill="#6a176e"/><rect x="1746" y="2205" width="46" height="46" fill="#450a69"/><rect x="1792" y="2205" width="46" height="46" fill="#230c4c"/><rect x="1838" y="2205" width="47" height="46" fill="#10092d"/><rect x="1885" y="2205" width="138" height="46" fill="#07051b"/><rect x="2023" y="2205" width="47" height="46" fill="#0a0722"/><rect x="2070" y="2205" width="46" height="46" fill="#07051b"/><rect x="2116" y="2205" width="46" height="46" fill="#030210"/><rect x="313" y="2251" width="46" height="47" fill="#260c51"/><rect x="359" y="2251" width="139" height="47" fill="#390963"/><rect x="498" y="2251" width="46" height="47" fill="#2b0b57"/><rect x="544" y="2251" width="46" height="47" fill="#230c4c"/><rect x="590" y="2251" width="47" height="47" fill="#1b0c41"/><rect x="637" y="2251" width="92" height="47" fill="#160b39"/><rect x="729" y="2251" width="46" height="47" fill="#1b0c41"/><rect x="775" y="2251" width="46" height="47" fill="#160b39"/><rect x="821" y="2251" width="47" height="47" fill="#140b34"/><rect x="868" y="2251" width="46" height="47" fill="#0a0722"/><rect x="914" y="2251" width="46" height="47" fill="#10092d"/><rect x="960" y="2251" width="46" height="47" fill="#140b34"/><rect x="1006" y="2251" width="185" height="47" fill="#160b39"/><rect x="1191" y="2251" width="47" height="47" fill="#260c51"/><rect x="1238" y="2251" width="46" height="47" fill="#3d0965"/><rect x="1284" y="2251" width="46" height="47" fill="#57106e"/><rect x="1330" y="2251" width="46" height="47" fill="#771c6d"/><rect x="1376" y="2251" width="46" height="47" fill="#9b2964"/><rect x="1422" y="2251" width="93" height="47" fill="#a32c61"/><rect x="1515" y="2251" width="46" height="47" fill="#9b2964"/><rect x="1561" y="2251" width="46" height="47" fill="#87216b"/><rect x="1607" y="2251" width="47" height="47" fill="#7c1d6d"/><rect x="1654" y="2251" width="46" height="47" fill="#6f196e"/><rect x="1700" y="2251" width="46" height="47" fill="#57106e"/><rect x="1746" y="2251" width="46" height="47" fill="#3d0965"/><rect x="1792" y="2251" width="46" height="47" fill="#230c4c"/><rect x="1838" y="2251" width="47" height="47" fill="#1b0c41"/><rect x="1885" y="2251" width="46" height="47" fill="#140b34"/><rect x="1931" y="2251" width="139" height="47" fill="#0a0722"/><rect x="2070" y="2251" width="92" height="47" fill="#050417"/><rect x="313" y="2298" width="46" height="46" fill="#1b0c41"/><rect x="359" y="2298" width="46" height="46" fill="#230c4c"/><rect x="405" y="2298" width="47" height="46" fill="#260c51"/><rect x="452" y="2298" width="92" height="46" fill="#230c4c"/><rect x="544" y="2298" width="46" height="46" fill="#1e0c45"/><rect x="590" y="2298" width="47" height="46" fill="#1b0c41"/><rect x="637" y="2298" width="46" height="46" fill="#160b39"/><rect x="683" y="2298" width="92" height="46" fill="#140b34"/><rect x="775" y="2298" width="46" height="46" fill="#160b39"/><rect x="821" y="2298" width="47" height="46" fill="#140b34"/><rect x="868" y="2298" width="46" height="46" fill="#10092d"/><rect x="914" y="2298" width="46" height="46" fill="#07051b"/><rect x="960" y="2298" width="46" height="46" fill="#0c0826"/><rect x="1006" y="2298" width="47" height="46" fill="#140b34"/><rect x="1053" y="2298" width="138" height="46" fill="#160b39"/><rect x="1191" y="2298" width="47" height="46" fill="#1e0c45"/><rect x="1238" y="2298" width="46" height="46" fill="#2f0a5b"/><rect x="1284" y="2298" width="46" height="46" fill="#420a68"/><rect x="1330" y="2298" width="46" height="46" fill="#57106e"/><rect x="1376" y="2298" width="46" height="46" fill="#6a176e"/><rect x="1422" y="2298" width="139" height="46" fill="#721a6e"/><rect x="1561" y="2298" width="46" height="46" fill="#6a176e"/><rect x="1607" y="2298" width="47" height="46" fill="#5f136e"/><rect x="1654" y="2298" width="46" height="46" fill="#4d0d6c"/><rect x="1700" y="2298" width="46" height="46" fill="#390963"/><rect x="1746" y="2298" width="46" height="46" fill="#260c51"/><rect x="1792" y="2298" width="46" height="46" fill="#230c4c"/><rect x="1838" y="2298" width="47" height="46" fill="#1e0c45"/><rect x="1885" y="2298" width="46" height="46" fill="#1b0c41"/><rect x="1931" y="2298" width="46" height="46" fill="#140b34"/><rect x="1977" y="2298" width="46" height="46" fill="#0a0722"/><rect x="2023" y="2298" width="139" height="46" fill="#050417"/><rect x="313" y="2344" width="46" height="46" fill="#1b0c41"/><rect x="359" y="2344" width="231" height="46" fill="#1e0c45"/><rect x="590" y="2344" width="93" height="46" fill="#1b0c41"/><rect x="683" y="2344" width="46" height="46" fill="#160b39"/><rect x="729" y="2344" width="185" height="46" fill="#140b34"/><rect x="914" y="2344" width="46" height="46" fill="#0a0722"/><rect x="960" y="2344" width="46" height="46" fill="#07051b"/><rect x="1006" y="2344" width="47" height="46" fill="#140b34"/><rect x="1053" y="2344" width="46" height="46" fill="#160b39"/><rect x="1099" y="2344" width="139" height="46" fill="#1b0c41"/><rect x="1238" y="2344" width="46" height="46" fill="#230c4c"/><rect x="1284" y="2344" width="46" height="46" fill="#390963"/><rect x="1330" y="2344" width="92" height="46" fill="#3d0965"/><rect x="1422" y="2344" width="47" height="46" fill="#450a69"/><rect x="1469" y="2344" width="92" height="46" fill="#4a0c6b"/><rect x="1561" y="2344" width="46" height="46" fill="#420a68"/><rect x="1607" y="2344" width="47" height="46" fill="#390963"/><rect x="1654" y="2344" width="46" height="46" fill="#2f0a5b"/><rect x="1700" y="2344" width="46" height="46" fill="#1e0c45"/><rect x="1746" y="2344" width="92" height="46" fill="#140b34"/><rect x="1838" y="2344" width="47" height="46" fill="#1b0c41"/><rect x="1885" y="2344" width="46" height="46" fill="#160b39"/><rect x="1931" y="2344" width="46" height="46" fill="#140b34"/><rect x="1977" y="2344" width="46" height="46" fill="#0a0722"/><rect x="2023" y="2344" width="139" height="46" fill="#050417"/><rect x="313" y="2390" width="46" height="46" fill="#160b39"/><rect x="359" y="2390" width="46" height="46" fill="#1e0c45"/><rect x="405" y="2390" width="47" height="46" fill="#230c4c"/><rect x="452" y="2390" width="138" height="46" fill="#1e0c45"/><rect x="590" y="2390" width="93" height="46" fill="#1b0c41"/><rect x="683" y="2390" width="46" height="46" fill="#160b39"/><rect x="729" y="2390" width="92" height="46" fill="#0c0826"/><rect x="821" y="2390" width="232" height="46" fill="#140b34"/><rect x="1053" y="2390" width="46" height="46" fill="#160b39"/><rect x="1099" y="2390" width="185" height="46" fill="#1e0c45"/><rect x="1284" y="2390" width="46" height="46" fill="#2b0b57"/><rect x="1330" y="2390" width="92" height="46" fill="#340a5f"/><rect x="1422" y="2390" width="47" height="46" fill="#2f0a5b"/><rect x="1469" y="2390" width="46" height="46" fill="#260c51"/><rect x="1515" y="2390" width="139" height="46" fill="#230c4c"/><rect x="1654" y="2390" width="46" height="46" fill="#1e0c45"/><rect x="1700" y="2390" width="46" height="46" fill="#160b39"/><rect x="1746" y="2390" width="92" height="46" fill="#0c0826"/><rect x="1838" y="2390" width="47" height="46" fill="#0a0722"/><rect x="1885" y="2390" width="46" height="46" fill="#160b39"/><rect x="1931" y="2390" width="46" height="46" fill="#140b34"/><rect x="1977" y="2390" width="46" height="46" fill="#0a0722"/><rect x="2023" y="2390" width="139" height="46" fill="#050417"/><rect x="313" y="2436" width="46" height="24" fill="#160b39"/><rect x="359" y="2436" width="231" height="24" fill="#1e0c45"/><rect x="590" y="2436" width="139" height="24" fill="#160b39"/><rect x="729" y="2436" width="139" height="24" fill="#0c0826"/><rect x="868" y="2436" width="46" height="24" fill="#140b34"/><rect x="914" y="2436" width="92" height="24" fill="#1e0c45"/><rect x="1006" y="2436" width="139" height="24" fill="#160b39"/><rect x="1145" y="2436" width="46" height="24" fill="#1e0c45"/><rect x="1191" y="2436" width="93" height="24" fill="#1b0c41"/><rect x="1284" y="2436" width="46" height="24" fill="#230c4c"/><rect x="1330" y="2436" width="92" height="24" fill="#2b0b57"/><rect x="1422" y="2436" width="47" height="24" fill="#260c51"/><rect x="1469" y="2436" width="46" height="24" fill="#1e0c45"/><rect x="1515" y="2436" width="185" height="24" fill="#160b39"/><rect x="1700" y="2436" width="92" height="24" fill="#140b34"/><rect x="1792" y="2436" width="46" height="24" fill="#0a0722"/><rect x="1838" y="2436" width="47" height="24" fill="#07051b"/><rect x="1885" y="2436" width="92" height="24" fill="#140b34"/><rect x="1977" y="2436" width="46" height="24" fill="#0c0826"/><rect x="2023" y="2436" width="47" height="24" fill="#07051b"/><rect x="2070" y="2436" width="92" height="24" fill="#030210"/></g>
<g stroke="#fff" stroke-opacity="0.62" stroke-width="2.1" stroke-dasharray="2.1 3.6"><line x1="666.8" y1="148" x2="666.8" y2="2460"/><line x1="1070.1" y1="148" x2="1070.1" y2="2460"/><line x1="1471.8" y1="148" x2="1471.8" y2="2460"/><line x1="1874.6" y1="148" x2="1874.6" y2="2460"/><line x1="300" y1="606.4" x2="2220" y2="606.4"/><line x1="300" y1="1143.2" x2="2220" y2="1143.2"/><line x1="300" y1="1679.9" x2="2220" y2="1679.9"/><line x1="300" y1="2216.6" x2="2220" y2="2216.6"/></g>
<path d="M925.6 428.8L948.4 424.0M971.5 429.3L995.0 423.5M879.9 475.1L901.7 470.1M925.8 475.6L948.3 469.6M971.7 476.1L994.9 469.1M1016.8 476.8L1042.2 468.4M1060.2 476.7L1091.2 468.5M836.1 521.0L853.0 516.6M881.9 521.1L899.7 516.5M927.0 521.6L947.1 516.0M972.1 522.2L994.4 515.4M1015.8 522.9L1043.2 514.7M1060.0 522.1L1091.4 515.5M1103.1 520.5L1140.8 517.1M1149.0 519.1L1187.3 518.5M1195.0 518.5L1233.8 519.1M1243.1 518.8L1278.1 518.8M789.9 567.3L806.8 562.7M836.8 566.9L852.4 563.1M882.0 567.6L899.7 562.4M926.6 568.3L947.4 561.7M972.0 568.7L994.6 561.3M1015.6 569.4L1043.4 560.6M1059.8 569.2L1091.7 560.8M1104.0 567.8L1139.9 562.2M1148.8 566.4L1187.5 563.6M1195.5 565.7L1233.3 564.3M1243.2 566.2L1278.0 563.8M739.8 615.5L764.5 606.9M788.0 613.9L808.7 608.5M835.1 613.5L854.0 608.9M880.9 613.8L900.7 608.6M925.5 614.9L948.6 607.5M970.4 615.5L996.2 606.9M1015.0 615.2L1044.0 607.2M1059.5 615.2L1092.0 607.2M1104.3 614.3L1139.6 608.1M1149.1 613.6L1187.2 608.8M1195.1 612.9L1233.7 609.5M1243.7 612.6L1277.5 609.8M737.9 662.2L766.4 652.6M786.0 661.0L810.7 653.8M834.2 659.9L855.0 654.9M880.0 660.2L901.6 654.6M925.5 661.1L948.6 653.7M970.4 661.9L996.1 652.9M1015.1 661.7L1043.9 653.1M1060.4 661.1L1091.0 653.7M1105.5 660.5L1138.4 654.3M1151.1 659.5L1185.3 655.3M1198.4 658.7L1230.3 656.1M1247.3 658.4L1273.9 656.4M736.7 708.8L767.5 698.4M785.4 707.6L811.3 699.6M833.5 706.3L855.7 700.9M880.0 706.4L901.6 700.8M925.1 706.8L949.0 700.4M969.8 707.8L996.7 699.4M1015.0 707.6L1044.0 699.6M1061.3 706.8L1090.2 700.4M1108.0 705.4L1135.9 701.8M1155.1 704.2L1181.3 703.0M1202.5 703.8L1226.3 703.4M1249.9 703.6L1271.3 703.6M784.5 755.0L812.2 744.6M832.7 753.2L856.5 746.4M879.9 752.3L901.7 747.3M924.7 753.4L949.4 746.2M968.5 754.8L998.0 744.8M1013.5 754.6L1045.5 745.0M1060.8 753.1L1090.6 746.5M1108.0 751.6L1135.9 748.0M1156.1 750.5L1180.3 749.1M1203.2 750.0L1225.5 749.6M1249.9 750.0L1271.3 749.6M1295.9 749.6L1317.8 750.0M785.3 802.5L811.4 789.5M832.7 800.9L856.5 791.1M879.4 799.5L902.2 792.5M923.7 800.4L950.4 791.6M966.5 801.8L1000.0 790.2M1011.6 802.2L1047.4 789.8M1059.1 800.7L1092.3 791.3M1107.7 798.9L1136.2 793.1M1155.9 797.5L1180.4 794.5M1202.3 796.6L1226.5 795.4M1248.5 796.7L1272.7 795.3M1294.7 795.7L1319.0 796.3M787.2 848.1L809.5 836.3M833.0 846.6L856.1 837.8M878.7 845.7L902.9 838.7M923.1 847.2L951.0 837.2M966.6 848.2L999.9 836.2M1011.1 847.5L1047.9 836.9M1059.5 847.1L1092.0 837.3M1108.8 845.6L1135.1 838.8M1156.7 844.0L1179.7 840.4M1202.5 843.2L1226.2 841.2M1248.0 843.1L1273.2 841.3M1294.7 842.2L1319.0 842.2M1340.5 840.6L1365.6 843.8M788.8 893.2L807.9 883.6M834.2 893.2L854.9 883.6M878.9 893.8L902.8 883.0M923.7 894.2L950.4 882.6M968.1 894.2L998.5 882.6M1013.0 894.1L1046.0 882.7M1061.8 892.5L1089.7 884.3M1111.0 891.7L1132.9 885.1M1158.8 891.0L1177.5 885.8M1205.3 890.1L1223.5 886.7M1250.8 890.2L1270.4 886.6M1297.1 888.8L1316.5 888.0M1342.6 887.8L1363.5 889.0M1387.2 887.1L1411.4 889.7M1432.0 887.1L1459.0 889.7M742.6 939.0L761.7 930.2M790.1 938.3L806.6 930.9M836.0 938.8L853.1 930.4M880.5 939.6L901.1 929.6M925.2 939.9L948.9 929.3M969.9 939.9L996.6 929.3M1015.6 939.2L1043.4 930.0M1063.1 938.2L1088.4 931.0M1111.9 937.7L1132.0 931.5M1160.8 937.2L1175.5 932.0M1208.0 936.4L1220.8 932.8M1254.4 936.1L1266.8 933.1M1300.7 935.0L1312.9 934.2M1346.0 934.2L1360.1 935.0M1390.3 934.0L1408.2 935.2M1434.6 933.6L1456.4 935.6M743.3 986.4L761.0 975.2M790.7 984.8L806.0 976.8M837.0 984.7L852.1 976.9M882.3 985.4L899.3 976.2M927.1 985.9L947.0 975.7M972.2 985.8L994.4 975.8M1017.9 985.1L1041.1 976.5M1064.3 984.2L1087.1 977.4M1112.7 983.4L1131.2 978.2M1161.2 982.9L1175.2 978.7M1208.7 982.3L1220.0 979.3M1256.2 981.9L1265.0 979.7M1302.9 980.8L1310.7 980.8M1349.4 980.6L1356.7 981.0M1394.0 980.7L1404.5 980.9M1437.5 980.4L1453.5 981.2M743.9 1032.8L760.4 1021.2M790.9 1032.3L805.9 1021.7M837.7 1031.6L851.4 1022.4M884.1 1031.2L897.5 1022.8M930.0 1031.2L944.1 1022.8M975.5 1031.7L991.0 1022.3M1020.5 1031.5L1038.5 1022.5M1066.0 1030.7L1085.4 1023.3M1113.2 1029.6L1130.6 1024.4M1161.1 1029.0L1175.2 1025.0M1208.1 1028.2L1220.7 1025.8M1255.6 1027.2L1265.7 1026.8M1303.0 1026.6L1310.6 1027.4M1350.4 1026.6L1355.7 1027.4M1396.5 1027.0L1402.1 1027.0M1439.9 1027.0L1451.1 1027.0M1482.6 1026.1L1500.9 1027.9M744.4 1079.4L759.9 1067.0M791.0 1079.1L805.7 1067.3M838.3 1077.9L850.9 1068.5M886.1 1076.5L895.5 1069.9M932.9 1076.3L941.1 1070.1M978.3 1077.1L988.2 1069.3M1022.6 1077.8L1036.3 1068.6M1067.6 1077.3L1083.9 1069.1M1114.2 1076.5L1129.7 1069.9M1161.0 1075.4L1175.3 1071.0M1207.6 1074.4L1221.1 1072.0M1254.5 1073.2L1266.7 1073.2M1301.6 1072.4L1312.1 1074.0M1349.7 1072.6L1356.4 1073.8M1396.7 1072.6L1401.9 1073.8M1440.8 1072.9L1450.3 1073.5M1483.3 1072.2L1500.2 1074.2M791.7 1125.2L805.0 1113.6M839.3 1123.6L849.9 1115.2M887.4 1122.0L894.2 1116.8M934.2 1121.8L939.9 1117.0M979.5 1123.2L987.0 1115.6M1023.5 1124.1L1035.5 1114.7M1068.3 1123.9L1083.2 1114.9M1115.0 1123.0L1128.8 1115.8M1161.3 1121.7L1175.0 1117.1M1207.7 1120.6L1221.0 1118.2M1253.8 1119.4L1267.4 1119.4M1300.2 1118.7L1313.5 1120.1M1347.9 1118.2L1358.3 1120.6M1395.5 1118.2L1403.1 1120.6M1440.8 1118.2L1450.2 1120.6M1483.3 1118.1L1500.1 1120.7M1527.8 1118.8L1548.1 1120.0M792.7 1170.3L804.0 1160.9M840.2 1169.0L848.9 1162.2M887.6 1168.0L894.1 1163.2M934.5 1168.8L939.6 1162.4M980.0 1170.0L986.5 1161.2M1024.2 1170.9L1034.8 1160.3M1069.3 1170.7L1082.1 1160.5M1115.7 1169.4L1128.2 1161.8M1162.4 1168.0L1173.9 1163.2M1208.2 1166.9L1220.6 1164.3M1253.6 1165.6L1267.6 1165.6M1299.4 1165.1L1314.3 1166.1M1346.7 1164.3L1359.4 1166.9M1394.4 1163.9L1404.2 1167.3M1440.1 1163.8L1451.0 1167.4M1483.1 1164.2L1500.4 1167.0M1527.3 1164.6L1548.6 1166.6M840.4 1213.7L848.7 1209.9M887.5 1213.7L894.1 1209.9M934.3 1215.2L939.8 1208.4M979.5 1216.9L987.0 1206.7M1024.6 1217.4L1034.4 1206.2M1070.4 1216.9L1081.1 1206.7M1117.3 1215.2L1126.5 1208.4M1163.5 1213.7L1172.9 1209.9M1208.9 1212.6L1219.9 1211.0M1254.0 1211.8L1267.3 1211.8M1299.2 1211.0L1314.5 1212.6M1346.0 1210.2L1360.2 1213.4M1393.5 1210.0L1405.0 1213.6M1439.3 1210.2L1451.8 1213.4M1483.1 1210.7L1500.4 1212.9M1526.6 1211.2L1549.3 1212.4M886.6 1259.7L895.1 1256.3M933.9 1261.3L940.2 1254.7M979.5 1262.8L987.0 1253.2M1025.1 1264.0L1033.9 1252.0M1071.1 1262.6L1080.3 1253.4M1118.4 1260.8L1125.5 1255.2M1164.9 1259.5L1171.4 1256.5M1210.4 1258.6L1218.4 1257.4M1255.2 1258.0L1266.0 1258.0M1299.4 1257.3L1314.3 1258.7M1345.7 1256.7L1360.5 1259.3M1393.3 1256.4L1405.3 1259.6M1438.4 1256.4L1452.6 1259.6M1481.8 1257.1L1501.7 1258.9M1524.8 1257.3L1551.1 1258.7M885.2 1305.5L896.4 1302.9M933.1 1306.2L940.9 1302.2M979.6 1308.0L986.9 1300.4M1025.8 1308.5L1033.1 1299.9M1072.4 1307.7L1079.1 1300.7M1119.4 1306.5L1124.5 1301.9M1165.7 1305.3L1170.6 1303.1M1211.7 1304.9L1217.1 1303.5M1256.1 1304.2L1265.1 1304.2M1300.4 1303.9L1313.3 1304.5M1345.6 1303.0L1360.5 1305.4M1392.0 1302.7L1406.5 1305.7M1437.0 1302.5L1454.0 1305.9M1479.9 1302.5L1503.5 1305.9M1524.1 1302.5L1551.8 1305.9M1026.7 1352.7L1032.3 1348.1M1072.9 1351.9L1078.5 1348.9M1119.6 1351.2L1124.3 1349.6M1166.0 1351.0L1170.4 1349.8M1211.8 1351.4L1217.0 1349.4M1257.1 1352.0L1264.1 1348.8M1300.8 1350.4L1312.8 1350.4M1345.7 1349.0L1360.4 1351.8M1391.2 1348.4L1407.4 1352.4M1435.4 1348.1L1455.7 1352.7M1479.4 1348.0L1504.1 1352.8M1524.2 1348.2L1551.7 1352.6M1569.9 1349.1L1598.5 1351.7M1072.1 1396.6L1079.3 1396.6M1118.2 1396.6L1125.7 1396.6M1164.3 1396.6L1172.0 1396.6M1211.3 1397.5L1217.5 1395.7M1257.0 1398.5L1264.2 1394.7M1303.9 1398.1L1309.8 1395.1M1347.5 1395.2L1358.6 1398.0M1391.1 1393.8L1407.5 1399.4M1435.2 1393.4L1455.9 1399.8M1479.3 1393.7L1504.2 1399.5M1524.7 1394.3L1551.3 1398.9M1571.0 1395.2L1597.4 1398.0M1070.6 1442.2L1080.8 1443.4M1116.6 1442.3L1127.3 1443.3M1162.9 1442.5L1173.4 1443.1M1209.9 1442.8L1218.9 1442.8M1256.9 1443.8L1264.3 1441.8M1303.7 1443.4L1310.0 1442.2M1348.1 1441.3L1358.0 1444.3M1392.1 1439.9L1406.4 1445.7M1436.1 1439.6L1454.9 1446.0M1480.3 1439.9L1503.2 1445.7M1525.8 1440.7L1550.1 1444.9M1572.3 1441.3L1596.1 1444.3M1070.4 1488.3L1081.0 1489.7M1116.3 1488.3L1127.6 1489.7M1162.7 1488.4L1173.6 1489.6M1208.8 1488.6L1220.0 1489.4M1255.3 1488.8L1266.0 1489.2M1301.7 1489.0L1312.0 1489.0M1347.7 1488.5L1358.4 1489.5M1392.9 1487.0L1405.7 1491.0M1437.2 1486.8L1453.8 1491.2M1482.1 1486.9L1501.4 1491.1M1527.2 1487.0L1548.7 1491.0M1116.7 1534.1L1127.2 1536.3M1162.0 1533.3L1174.3 1537.1M1207.4 1533.3L1221.4 1537.1M1252.3 1533.6L1268.9 1536.8M1298.8 1534.2L1314.9 1536.2M1345.7 1534.4L1360.4 1536.0M1391.8 1533.9L1406.8 1536.5M1437.2 1533.3L1453.9 1537.1M1482.3 1533.4L1501.2 1537.0M1527.7 1533.1L1548.2 1537.3M1114.3 1578.8L1129.6 1584.0M1159.5 1577.4L1176.8 1585.4M1203.8 1577.1L1225.0 1585.7M1248.7 1578.0L1272.5 1584.8M1294.8 1579.5L1318.8 1583.3M1342.0 1580.6L1364.1 1582.2M1389.0 1581.2L1409.5 1581.6M1435.6 1581.1L1455.4 1581.7M1482.0 1580.7L1501.5 1582.1M1110.4 1623.0L1133.4 1632.2M1153.5 1620.8L1182.8 1634.4M1198.0 1620.3L1230.8 1634.9M1243.3 1622.0L1277.9 1633.2M1289.8 1624.3L1323.9 1630.9M1337.1 1626.5L1369.0 1628.7M1384.9 1627.6L1413.7 1627.6M1432.8 1628.3L1458.2 1626.9M1105.9 1668.0L1137.9 1679.6M1149.5 1665.9L1186.8 1681.7M1193.5 1665.4L1235.3 1682.2M1238.5 1667.0L1282.7 1680.6M1285.3 1669.2L1328.4 1678.4M1332.6 1671.6L1373.6 1676.0M1380.7 1673.8L1417.9 1673.8M1147.3 1712.0L1189.1 1728.0M1190.7 1711.9L1238.0 1728.1M1236.1 1713.0L1285.1 1727.0M1282.7 1715.3L1330.9 1724.7M1330.1 1717.2L1376.0 1722.8M1379.9 1719.7L1418.7 1720.3M1145.0 1758.9L1191.3 1773.5M1189.8 1759.4L1238.9 1773.0M1234.9 1759.0L1286.3 1773.4M1282.8 1761.3L1330.9 1771.1M1330.2 1763.6L1376.0 1768.8M1381.6 1765.6L1417.0 1766.8M1432.7 1766.8L1458.4 1765.6M1189.7 1806.0L1239.0 1818.8M1234.9 1806.2L1286.3 1818.6M1282.8 1807.5L1330.9 1817.3M1331.2 1809.6L1375.0 1815.2M1383.1 1811.3L1415.5 1813.5M1433.4 1812.7L1457.6 1812.1M1479.9 1814.9L1503.6 1809.9M1331.9 1855.5L1374.2 1861.7M1382.6 1857.5L1416.0 1859.7M1432.0 1859.5L1459.1 1857.7M1478.5 1861.7L1505.0 1855.5M1522.9 1863.1L1553.1 1854.1M1381.6 1904.5L1417.0 1905.1M1429.8 1906.1L1461.2 1903.5M1477.5 1908.0L1506.0 1901.6M1523.7 1908.8L1552.2 1900.8M1379.9 1951.3L1418.7 1950.7M1428.6 1952.4L1462.4 1949.6M1477.5 1953.9L1506.0 1948.1M1525.2 1954.7L1550.8 1947.3M1572.0 1955.7L1596.4 1946.3M1378.9 1997.6L1419.7 1996.8M1428.6 1998.6L1462.4 1995.8M1477.7 1999.8L1505.8 1994.6M1525.6 2000.8L1550.3 1993.6M1572.0 2001.4L1596.3 1993.0M1617.7 2001.9L1643.2 1992.5M1661.9 2002.8L1691.4 1991.6M1379.7 2043.7L1418.8 2043.1M1428.6 2044.5L1462.4 2042.3M1476.9 2045.9L1506.6 2040.9M1524.0 2046.7L1551.9 2040.1M1571.1 2047.2L1597.2 2039.6M1616.8 2047.9L1644.0 2038.9M1661.6 2048.2L1691.6 2038.6M1380.7 2089.9L1417.9 2089.3M1428.6 2090.7L1462.4 2088.5M1476.0 2092.3L1507.5 2086.9M1522.9 2093.3L1553.0 2085.9M1569.8 2093.9L1598.6 2085.3M1616.2 2094.4L1644.7 2084.8M1381.4 2136.4L1417.2 2135.2M1428.6 2137.2L1462.4 2134.4M1474.8 2138.8L1508.7 2132.8M1521.8 2139.8L1554.2 2131.8M1568.7 2139.9L1599.6 2131.7M1381.4 2183.2L1417.1 2180.8M1428.5 2184.4L1462.5 2179.6M1474.9 2185.5L1508.5 2178.5M1521.5 2185.8L1554.5 2178.2" stroke="#fff" stroke-width="4.8" fill="none"/>
<rect x="301" y="149" width="1918" height="2310" fill="none" stroke="#000" stroke-width="2"/>
<path d="M302.6 2458 V150.6 H2218" fill="none" stroke="#c8c8c8" stroke-width="1.2"/>
<path d="M666.8 148 v-9M666.8 2460 v9M1070.1 148 v-9M1070.1 2460 v9M1471.8 148 v-9M1471.8 2460 v9M1874.6 148 v-9M1874.6 2460 v9M300 606.4 h-9M2220 606.4 h9M300 1143.2 h-9M2220 1143.2 h9M300 1679.9 h-9M2220 1679.9 h9M300 2216.6 h-9M2220 2216.6 h9" stroke="#000" stroke-width="1.7" fill="none"/>
<path d="M405 195.8 L337.3 262.4" stroke="#fff" stroke-width="1.9"/>
<g stroke="#000" stroke-width="2.6" fill="#000" stroke-linejoin="miter"><path d="M2134 432.3 V275 H2122.5 L2135.5 248.8 L2148.5 275 H2137 V432.3 Z"/><path d="M2135.5 430.8 H2009.5 V419.3 L1983.3 432.3 L2009.5 445.3 V433.8 H2135.5 Z"/></g>
<g fill="#fff"><path d="M2134 432.3 V275 H2122.5 L2135.5 248.8 L2148.5 275 H2137 V432.3 Z"/><path d="M2135.5 430.8 H2009.5 V419.3 L1983.3 432.3 L2009.5 445.3 V433.8 H2135.5 Z"/><rect x="2134" y="430.8" width="3" height="3"/></g>
<text x="2154.6" y="224.1" font-size="59.2" fill="#fff" stroke="#000" stroke-width="0.8" paint-order="stroke" textLength="36.6" lengthAdjust="spacingAndGlyphs">N</text>
<text x="2002.6" y="409.4" font-size="59.4" fill="#fff" stroke="#000" stroke-width="0.8" paint-order="stroke" textLength="30.4" lengthAdjust="spacingAndGlyphs">E</text>
<path d="M340.7 2368.2 H877.4 M2044.2 2367.8 H2137.5" stroke="#fff" stroke-width="3"/>
<g transform="translate(1260.3 56.7)" fill="#000"><text x="-248.7" y="0.0" font-size="44.2" textLength="497.4" lengthAdjust="spacingAndGlyphs">Right Ascension (J2000)</text></g><g transform="translate(668.8 120.3)" fill="#000"><text x="-66.5" y="-0.0" font-size="44.2" textLength="66.2" lengthAdjust="spacingAndGlyphs">40.</text><text x="-3.6" y="-0.0" font-size="44.2" textLength="53.0" lengthAdjust="spacingAndGlyphs">75</text><text x="49.8" y="-16.1" font-size="30.9" textLength="15.2" lengthAdjust="spacingAndGlyphs">s</text></g><g transform="translate(1072.1 120.3)" fill="#000"><text x="-66.5" y="-0.0" font-size="44.2" textLength="66.2" lengthAdjust="spacingAndGlyphs">40.</text><text x="-3.6" y="-0.0" font-size="44.2" textLength="53.0" lengthAdjust="spacingAndGlyphs">70</text><text x="49.8" y="-16.1" font-size="30.9" textLength="15.2" lengthAdjust="spacingAndGlyphs">s</text></g><g transform="translate(1473.8 120.3)" fill="#000"><text x="-68.0" y="-0.0" font-size="44.2" textLength="119.2" lengthAdjust="spacingAndGlyphs">40.65</text><text x="51.6" y="-16.1" font-size="30.9" textLength="15.2" lengthAdjust="spacingAndGlyphs">s</text></g><g transform="translate(1876.6 120.3)" fill="#000"><text x="-133.0" y="-0.0" font-size="44.2" textLength="26.5" lengthAdjust="spacingAndGlyphs">2</text><text x="-106.1" y="-16.1" font-size="30.9" textLength="18.5" lengthAdjust="spacingAndGlyphs">h</text><text x="-86.5" y="-0.0" font-size="44.2" textLength="53.0" lengthAdjust="spacingAndGlyphs">42</text><text x="-33.1" y="-16.1" font-size="30.9" textLength="28.4" lengthAdjust="spacingAndGlyphs">m</text><text x="-3.6" y="-0.0" font-size="44.2" textLength="119.2" lengthAdjust="spacingAndGlyphs">40.60</text><text x="116.0" y="-16.1" font-size="30.9" textLength="15.2" lengthAdjust="spacingAndGlyphs">s</text></g><g transform="translate(281.0 618.8)" fill="#000"><text x="-199.1" y="0.0" font-size="44.2" textLength="199.1" lengthAdjust="spacingAndGlyphs">-0°00&#x27;46&quot;</text></g><g transform="translate(281.0 1155.6)" fill="#000"><text x="-72.2" y="0.0" font-size="44.2" textLength="72.2" lengthAdjust="spacingAndGlyphs">47&quot;</text></g><g transform="translate(281.0 1692.3)" fill="#000"><text x="-72.2" y="0.0" font-size="44.2" textLength="72.2" lengthAdjust="spacingAndGlyphs">48&quot;</text></g><g transform="translate(281.0 2229.0)" fill="#000"><text x="-72.2" y="0.0" font-size="44.2" textLength="72.2" lengthAdjust="spacingAndGlyphs">49&quot;</text></g><g transform="translate(52.7 1302.4) rotate(-90)" fill="#000"><text x="-199.8" y="0.0" font-size="44.2" textLength="399.7" lengthAdjust="spacingAndGlyphs">Declination (J2000)</text></g><g transform="translate(2492.2 1295) scale(1 0.975) translate(-2492.2 -1296.5)"><g transform="translate(2492.2 1296.5) rotate(-90)" fill="#000"><text x="-261.0" y="-0.0" font-size="44.2" font-style="italic" textLength="24.0" lengthAdjust="spacingAndGlyphs">F</text><text x="-237.1" y="6.9" font-size="30.9" font-style="italic" textLength="17.3" lengthAdjust="spacingAndGlyphs">λ</text><text x="-205.4" y="-0.0" font-size="44.2" textLength="16.2" lengthAdjust="spacingAndGlyphs">[</text><text x="-189.2" y="-0.0" font-size="44.2" font-style="italic" textLength="90.9" lengthAdjust="spacingAndGlyphs">ergs</text><text x="-90.3" y="-0.0" font-size="44.2" textLength="13.2" lengthAdjust="spacingAndGlyphs">·</text><text x="-68.9" y="-0.0" font-size="44.2" font-style="italic" textLength="63.5" lengthAdjust="spacingAndGlyphs">cm</text><text x="-3.5" y="-16.1" font-size="30.9" textLength="43.0" lengthAdjust="spacingAndGlyphs">−2</text><text x="48.7" y="-0.0" font-size="44.2" textLength="13.2" lengthAdjust="spacingAndGlyphs">·</text><text x="70.0" y="-0.0" font-size="44.2" font-style="italic" textLength="21.7" lengthAdjust="spacingAndGlyphs">s</text><text x="93.7" y="-16.1" font-size="30.9" textLength="43.0" lengthAdjust="spacingAndGlyphs">−1</text><text x="145.9" y="-0.0" font-size="44.2" textLength="13.2" lengthAdjust="spacingAndGlyphs">·</text><text x="167.2" y="-0.0" font-size="44.2" font-style="italic" textLength="28.5" lengthAdjust="spacingAndGlyphs">Å</text><text x="199.8" y="-16.1" font-size="30.9" textLength="43.0" lengthAdjust="spacingAndGlyphs">−1</text><text x="243.9" y="-0.0" font-size="44.2" textLength="16.3" lengthAdjust="spacingAndGlyphs">]</text></g></g><g transform="translate(2326.5 652.0)" fill="#000"><text x="0.0" y="-0.0" font-size="44.2" textLength="53.0" lengthAdjust="spacingAndGlyphs">10</text><text x="53.4" y="-16.1" font-size="30.9" textLength="61.5" lengthAdjust="spacingAndGlyphs">−16</text></g><g transform="translate(2326.5 1387.1)" fill="#000"><text x="0.0" y="-0.0" font-size="44.2" textLength="53.0" lengthAdjust="spacingAndGlyphs">10</text><text x="53.4" y="-16.1" font-size="30.9" textLength="61.5" lengthAdjust="spacingAndGlyphs">−17</text></g><g transform="translate(2326.5 2122.3)" fill="#000"><text x="0.0" y="-0.0" font-size="44.2" textLength="53.0" lengthAdjust="spacingAndGlyphs">10</text><text x="53.4" y="-16.1" font-size="30.9" textLength="61.5" lengthAdjust="spacingAndGlyphs">−18</text></g><g transform="translate(320.7 193.9)" fill="#fff"><text x="0.0" y="-0.0" font-size="35.3" font-style="italic" textLength="19.2" lengthAdjust="spacingAndGlyphs">F</text><text x="21.5" y="-12.7" font-size="24.7" font-style="italic" textLength="30.4" lengthAdjust="spacingAndGlyphs">int</text><text x="19.2" y="9.0" font-size="24.7" font-style="italic" textLength="13.8" lengthAdjust="spacingAndGlyphs">λ</text><text x="52.9" y="-0.0" font-size="35.3" textLength="98.0" lengthAdjust="spacingAndGlyphs">(2555</text><text x="161.4" y="-0.0" font-size="35.3" font-style="italic" textLength="22.8" lengthAdjust="spacingAndGlyphs">Å</text><text x="184.3" y="-0.0" font-size="35.3" textLength="382.3" lengthAdjust="spacingAndGlyphs">) = (38.48 ± 0.02)e-15</text><text x="577.2" y="-0.0" font-size="35.3" font-style="italic" textLength="72.8" lengthAdjust="spacingAndGlyphs">ergs</text><text x="656.5" y="-0.0" font-size="35.3" textLength="10.6" lengthAdjust="spacingAndGlyphs">·</text><text x="673.7" y="-0.0" font-size="35.3" font-style="italic" textLength="50.8" lengthAdjust="spacingAndGlyphs">cm</text><text x="726.0" y="-12.6" font-size="24.7" textLength="34.4" lengthAdjust="spacingAndGlyphs">−2</text><text x="767.9" y="-0.0" font-size="35.3" textLength="10.6" lengthAdjust="spacingAndGlyphs">·</text><text x="785.0" y="-0.0" font-size="35.3" font-style="italic" textLength="17.4" lengthAdjust="spacingAndGlyphs">s</text><text x="803.9" y="-12.6" font-size="24.7" textLength="34.4" lengthAdjust="spacingAndGlyphs">−1</text><text x="845.8" y="-0.0" font-size="35.3" textLength="10.6" lengthAdjust="spacingAndGlyphs">·</text><text x="862.9" y="-0.0" font-size="35.3" font-style="italic" textLength="22.8" lengthAdjust="spacingAndGlyphs">Å</text><text x="888.9" y="-12.6" font-size="24.7" textLength="34.4" lengthAdjust="spacingAndGlyphs">−1</text></g><g transform="translate(320.7 238.6)" fill="#fff"><text x="0.0" y="-0.0" font-size="35.3" font-style="italic" textLength="20.1" lengthAdjust="spacingAndGlyphs">P</text><text x="22.4" y="-12.6" font-size="24.7" font-style="italic" textLength="30.4" lengthAdjust="spacingAndGlyphs">int</text><text x="64.4" y="-0.0" font-size="35.3" textLength="257.4" lengthAdjust="spacingAndGlyphs">= 16.1 ± 0.1 %</text></g><g transform="translate(320.7 286.7)" fill="#fff"><text x="0.0" y="-0.0" font-size="35.3" font-style="italic" textLength="20.4" lengthAdjust="spacingAndGlyphs">θ</text><text x="22.9" y="-12.6" font-size="24.7" font-style="italic" textLength="30.4" lengthAdjust="spacingAndGlyphs">int</text><text x="20.4" y="9.0" font-size="24.7" font-style="italic" textLength="14.1" lengthAdjust="spacingAndGlyphs">P</text><text x="64.9" y="-0.0" font-size="35.3" textLength="193.9" lengthAdjust="spacingAndGlyphs">= 98.1 ± 0.</text><text x="256.9" y="-0.0" font-size="35.3" textLength="48.5" lengthAdjust="spacingAndGlyphs">2 °</text></g><g transform="translate(609.0 2413.4)" fill="#fff"><text x="-83.4" y="0.0" font-size="42.2" textLength="166.8" lengthAdjust="spacingAndGlyphs">1 arcsec</text></g><g transform="translate(2091.0 2413.0)" fill="#fff"><text x="-90.0" y="-0.0" font-size="41.2" font-style="italic" textLength="23.5" lengthAdjust="spacingAndGlyphs">P</text><text x="-66.6" y="-0.0" font-size="41.2" textLength="156.1" lengthAdjust="spacingAndGlyphs">= 100%</text></g>
<rect x="2277.0" y="149" width="29.2" height="2310" fill="url(#cb)" stroke="#000" stroke-width="2"/>
<path d="M2307 2106.2 h9M2307 1371.0 h9M2307 635.9 h9" stroke="#000" stroke-width="1.9" fill="none"/>
<path d="M2307 2398.7 h5M2307 2327.5 h5M2307 2269.3 h5M2307 2220.1 h5M2307 2177.4 h5M2307 2139.8 h5M2307 1884.9 h5M2307 1755.4 h5M2307 1663.6 h5M2307 1592.4 h5M2307 1534.1 h5M2307 1484.9 h5M2307 1442.3 h5M2307 1404.7 h5M2307 1149.7 h5M2307 1020.3 h5M2307 928.4 h5M2307 857.2 h5M2307 799.0 h5M2307 749.8 h5M2307 707.1 h5M2307 669.5 h5M2307 414.6 h5M2307 285.1 h5M2307 193.3 h5" stroke="#000" stroke-width="1.4" fill="none"/>
</svg></body></html>
